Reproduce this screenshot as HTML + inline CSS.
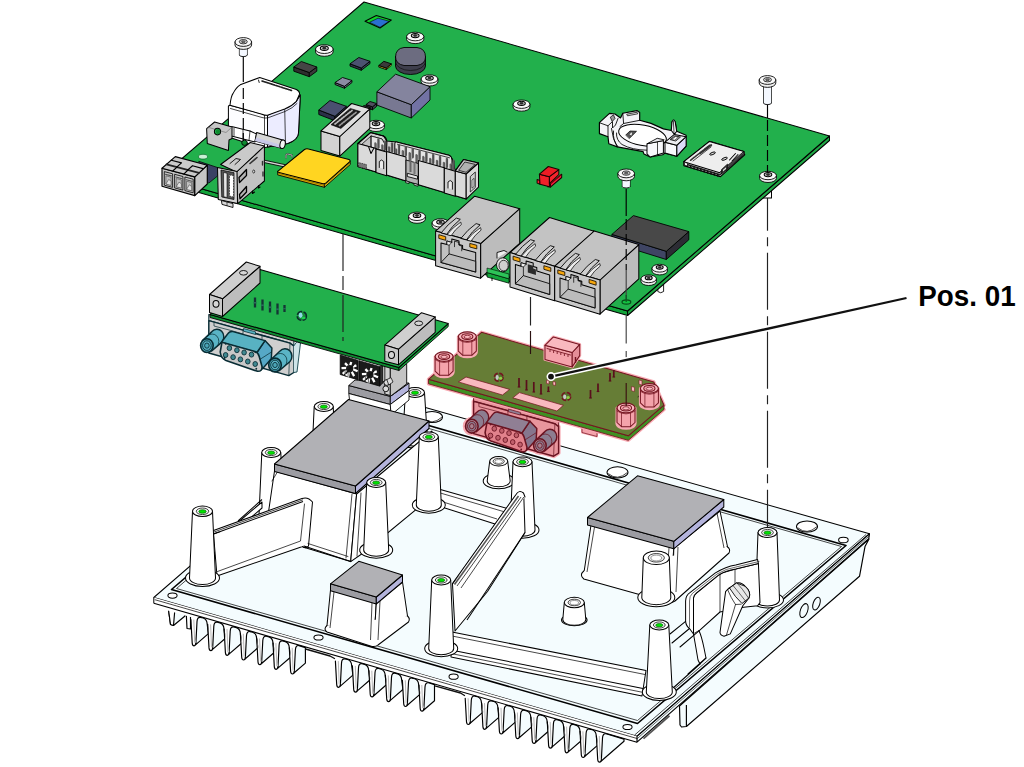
<!DOCTYPE html>
<html><head><meta charset="utf-8"><title>Pos. 01</title>
<style>
html,body{margin:0;padding:0;background:#fff;}
body{width:1024px;height:767px;overflow:hidden;}
svg{display:block;}
text{font-family:"Liberation Sans",sans-serif;}
</style></head><body>
<svg width="1024" height="767" viewBox="0 0 1024 767">
<rect width="1024" height="767" fill="#fff"/>
<polygon points="679.5,706.0 680.0,725.0 681.5,727.0 686.4,726.5 859.5,576.3 865.0,546.6 869.0,539.0" fill="#f4fcfe" stroke="#000" stroke-width="1.16" stroke-linejoin="round" />
<line x1="686.4" y1="726.5" x2="686.4" y2="705.0" stroke="#000" stroke-width="1.16" />
<line x1="643.5" y1="738.6" x2="669.5" y2="715.8" stroke="#555" stroke-width="1.80" />
<polygon points="168.0,606.0 170.5,624.5 173.5,625.5 185.0,616.0 185.0,606.0" fill="#f4fcfe" stroke="#000" stroke-width="1.16" stroke-linejoin="round" />
<polygon points="168.0,606.0 170.5,624.5 173.5,625.5 175.0,608.0" fill="#fff" stroke="#000" stroke-width="1.16" stroke-linejoin="round" />
<polygon points="186.0,608.0 187.0,628.5 190.5,629.0 190.5,608.0" fill="#fff" stroke="#000" stroke-width="1.16" stroke-linejoin="round" />
<polygon points="153.8,597.5 637.0,736.3 869.5,533.8 385.8,396.2" fill="#f4fcfe" stroke="#000" stroke-width="1.01" stroke-linejoin="round" />
<polygon points="153.8,597.5 153.8,606.5 637.0,745.3 637.0,736.3" fill="#fff" stroke="none" stroke-width="1.16" stroke-linejoin="round" />
<line x1="153.8" y1="597.5" x2="153.8" y2="603.3" stroke="#000" stroke-width="1.01" />
<path d="M195.8,644.6 L208.4,633.6 L207.2,624.2 Q206.9,619.2 203.2,618.0 L200.5,617.4 Q197.3,616.8 197.0,621.6 Z" fill="#f4fcfe" stroke="#000" stroke-width="1.16" stroke-linejoin="round" stroke-linecap="round" />
<path d="M190.9,619.6 L192.2,643.1 Q192.5,645.8 194.1,645.8 Q195.7,645.8 195.8,643.1" fill="#fff" stroke="#000" stroke-width="1.16" stroke-linejoin="round" stroke-linecap="round" />
<line x1="193.8" y1="619.6" x2="194.7" y2="642.6" stroke="#999" stroke-width="0.72" />
<path d="M212.6,649.4 L225.2,638.5 L224.0,629.1 Q223.7,624.1 220.0,622.9 L217.3,622.2 Q214.1,621.6 213.8,626.4 Z" fill="#f4fcfe" stroke="#000" stroke-width="1.16" stroke-linejoin="round" stroke-linecap="round" />
<path d="M207.7,624.4 L209.0,647.9 Q209.3,650.6 210.9,650.6 Q212.5,650.6 212.6,647.9" fill="#fff" stroke="#000" stroke-width="1.16" stroke-linejoin="round" stroke-linecap="round" />
<line x1="210.6" y1="624.4" x2="211.5" y2="647.4" stroke="#999" stroke-width="0.72" />
<path d="M229.0,654.1 L241.6,643.2 L240.4,633.8 Q240.1,628.8 236.4,627.6 L233.7,626.9 Q230.5,626.3 230.2,631.1 Z" fill="#f4fcfe" stroke="#000" stroke-width="1.16" stroke-linejoin="round" stroke-linecap="round" />
<path d="M224.1,629.1 L225.4,652.6 Q225.7,655.3 227.3,655.3 Q228.9,655.3 229.0,652.6" fill="#fff" stroke="#000" stroke-width="1.16" stroke-linejoin="round" stroke-linecap="round" />
<line x1="227.0" y1="629.1" x2="227.9" y2="652.1" stroke="#999" stroke-width="0.72" />
<path d="M245.3,658.8 L257.9,647.8 L256.7,638.5 Q256.4,633.5 252.7,632.3 L250.0,631.6 Q246.8,631.0 246.5,635.8 Z" fill="#f4fcfe" stroke="#000" stroke-width="1.16" stroke-linejoin="round" stroke-linecap="round" />
<path d="M240.4,633.8 L241.7,657.3 Q242.0,660.0 243.6,660.0 Q245.2,660.0 245.3,657.3" fill="#fff" stroke="#000" stroke-width="1.16" stroke-linejoin="round" stroke-linecap="round" />
<line x1="243.3" y1="633.8" x2="244.2" y2="656.8" stroke="#999" stroke-width="0.72" />
<path d="M261.6,663.5 L274.2,652.5 L273.0,643.1 Q272.7,638.1 269.0,636.9 L266.3,636.3 Q263.1,635.7 262.8,640.5 Z" fill="#f4fcfe" stroke="#000" stroke-width="1.16" stroke-linejoin="round" stroke-linecap="round" />
<path d="M256.7,638.5 L258.0,662.0 Q258.3,664.7 259.9,664.7 Q261.5,664.7 261.6,662.0" fill="#fff" stroke="#000" stroke-width="1.16" stroke-linejoin="round" stroke-linecap="round" />
<line x1="259.6" y1="638.5" x2="260.5" y2="661.5" stroke="#999" stroke-width="0.72" />
<path d="M277.9,668.1 L290.5,657.2 L289.3,647.8 Q289.0,642.8 285.3,641.6 L282.6,640.9 Q279.4,640.3 279.1,645.1 Z" fill="#f4fcfe" stroke="#000" stroke-width="1.16" stroke-linejoin="round" stroke-linecap="round" />
<path d="M273.0,643.1 L274.3,666.6 Q274.6,669.3 276.2,669.3 Q277.8,669.3 277.9,666.6" fill="#fff" stroke="#000" stroke-width="1.16" stroke-linejoin="round" stroke-linecap="round" />
<line x1="275.9" y1="643.1" x2="276.8" y2="666.1" stroke="#999" stroke-width="0.72" />
<path d="M294.2,672.8 L305.4,663.1 L305.4,647.6 L298.9,645.6 Q295.7,645.0 295.4,649.8 Z" fill="#f4fcfe" stroke="#000" stroke-width="1.16" stroke-linejoin="round" stroke-linecap="round" />
<path d="M289.3,647.8 L290.6,671.3 Q290.9,674.0 292.5,674.0 Q294.1,674.0 294.2,671.3" fill="#fff" stroke="#000" stroke-width="1.16" stroke-linejoin="round" stroke-linecap="round" />
<line x1="292.2" y1="647.8" x2="293.1" y2="670.8" stroke="#999" stroke-width="0.72" />
<path d="M340.3,686.1 L352.9,675.1 L351.7,665.7 Q351.4,660.7 347.7,659.5 L345.0,658.9 Q341.8,658.3 341.5,663.1 Z" fill="#f4fcfe" stroke="#000" stroke-width="1.16" stroke-linejoin="round" stroke-linecap="round" />
<path d="M335.4,661.1 L336.7,684.6 Q337.0,687.3 338.6,687.3 Q340.2,687.3 340.3,684.6" fill="#fff" stroke="#000" stroke-width="1.16" stroke-linejoin="round" stroke-linecap="round" />
<line x1="338.3" y1="661.1" x2="339.2" y2="684.1" stroke="#999" stroke-width="0.72" />
<path d="M357.3,690.9 L369.9,680.0 L368.7,670.6 Q368.4,665.6 364.7,664.4 L362.0,663.7 Q358.8,663.1 358.5,667.9 Z" fill="#f4fcfe" stroke="#000" stroke-width="1.16" stroke-linejoin="round" stroke-linecap="round" />
<path d="M352.4,665.9 L353.7,689.4 Q354.0,692.1 355.6,692.1 Q357.2,692.1 357.3,689.4" fill="#fff" stroke="#000" stroke-width="1.16" stroke-linejoin="round" stroke-linecap="round" />
<line x1="355.3" y1="665.9" x2="356.2" y2="688.9" stroke="#999" stroke-width="0.72" />
<path d="M373.8,695.7 L386.4,684.8 L385.2,675.4 Q384.9,670.4 381.2,669.2 L378.5,668.5 Q375.3,667.9 375.0,672.7 Z" fill="#f4fcfe" stroke="#000" stroke-width="1.16" stroke-linejoin="round" stroke-linecap="round" />
<path d="M368.9,670.7 L370.2,694.2 Q370.5,696.9 372.1,696.9 Q373.7,696.9 373.8,694.2" fill="#fff" stroke="#000" stroke-width="1.16" stroke-linejoin="round" stroke-linecap="round" />
<line x1="371.8" y1="670.7" x2="372.7" y2="693.7" stroke="#999" stroke-width="0.72" />
<path d="M390.3,700.4 L402.9,689.5 L401.7,680.1 Q401.4,675.1 397.7,673.9 L395.0,673.2 Q391.8,672.6 391.5,677.4 Z" fill="#f4fcfe" stroke="#000" stroke-width="1.16" stroke-linejoin="round" stroke-linecap="round" />
<path d="M385.4,675.4 L386.7,698.9 Q387.0,701.6 388.6,701.6 Q390.2,701.6 390.3,698.9" fill="#fff" stroke="#000" stroke-width="1.16" stroke-linejoin="round" stroke-linecap="round" />
<line x1="388.3" y1="675.4" x2="389.2" y2="698.4" stroke="#999" stroke-width="0.72" />
<path d="M407.3,705.3 L419.9,694.4 L418.7,685.0 Q418.4,680.0 414.7,678.8 L412.0,678.1 Q408.8,677.5 408.5,682.3 Z" fill="#f4fcfe" stroke="#000" stroke-width="1.16" stroke-linejoin="round" stroke-linecap="round" />
<path d="M402.4,680.3 L403.7,703.8 Q404.0,706.5 405.6,706.5 Q407.2,706.5 407.3,703.8" fill="#fff" stroke="#000" stroke-width="1.16" stroke-linejoin="round" stroke-linecap="round" />
<line x1="405.3" y1="680.3" x2="406.2" y2="703.3" stroke="#999" stroke-width="0.72" />
<path d="M423.8,710.0 L434.5,700.8 L434.5,684.6 L428.5,682.8 Q425.3,682.2 425.0,687.0 Z" fill="#f4fcfe" stroke="#000" stroke-width="1.16" stroke-linejoin="round" stroke-linecap="round" />
<path d="M418.9,685.0 L420.2,708.5 Q420.5,711.2 422.1,711.2 Q423.7,711.2 423.8,708.5" fill="#fff" stroke="#000" stroke-width="1.16" stroke-linejoin="round" stroke-linecap="round" />
<line x1="421.8" y1="685.0" x2="422.7" y2="708.0" stroke="#999" stroke-width="0.72" />
<path d="M470.1,723.3 L482.7,712.4 L481.5,703.0 Q481.2,698.0 477.5,696.8 L474.8,696.1 Q471.6,695.5 471.3,700.3 Z" fill="#f4fcfe" stroke="#000" stroke-width="1.16" stroke-linejoin="round" stroke-linecap="round" />
<path d="M465.2,698.3 L466.5,721.8 Q466.8,724.5 468.4,724.5 Q470.0,724.5 470.1,721.8" fill="#fff" stroke="#000" stroke-width="1.16" stroke-linejoin="round" stroke-linecap="round" />
<line x1="468.1" y1="698.3" x2="469.0" y2="721.3" stroke="#999" stroke-width="0.72" />
<path d="M486.5,728.1 L499.1,717.1 L497.9,707.7 Q497.6,702.7 493.9,701.5 L491.2,700.9 Q488.0,700.3 487.7,705.1 Z" fill="#f4fcfe" stroke="#000" stroke-width="1.16" stroke-linejoin="round" stroke-linecap="round" />
<path d="M481.6,703.1 L482.9,726.6 Q483.2,729.3 484.8,729.3 Q486.4,729.3 486.5,726.6" fill="#fff" stroke="#000" stroke-width="1.16" stroke-linejoin="round" stroke-linecap="round" />
<line x1="484.5" y1="703.1" x2="485.4" y2="726.1" stroke="#999" stroke-width="0.72" />
<path d="M503.0,732.8 L515.6,721.9 L514.4,712.5 Q514.1,707.5 510.4,706.3 L507.7,705.6 Q504.5,705.0 504.2,709.8 Z" fill="#f4fcfe" stroke="#000" stroke-width="1.16" stroke-linejoin="round" stroke-linecap="round" />
<path d="M498.1,707.8 L499.4,731.3 Q499.7,734.0 501.3,734.0 Q502.9,734.0 503.0,731.3" fill="#fff" stroke="#000" stroke-width="1.16" stroke-linejoin="round" stroke-linecap="round" />
<line x1="501.0" y1="707.8" x2="501.9" y2="730.8" stroke="#999" stroke-width="0.72" />
<path d="M519.4,737.5 L532.0,726.6 L530.8,717.2 Q530.5,712.2 526.8,711.0 L524.1,710.3 Q520.9,709.7 520.6,714.5 Z" fill="#f4fcfe" stroke="#000" stroke-width="1.16" stroke-linejoin="round" stroke-linecap="round" />
<path d="M514.5,712.5 L515.8,736.0 Q516.1,738.7 517.7,738.7 Q519.3,738.7 519.4,736.0" fill="#fff" stroke="#000" stroke-width="1.16" stroke-linejoin="round" stroke-linecap="round" />
<line x1="517.4" y1="712.5" x2="518.3" y2="735.5" stroke="#999" stroke-width="0.72" />
<path d="M535.8,742.2 L548.4,731.3 L547.2,721.9 Q546.9,716.9 543.2,715.7 L540.5,715.0 Q537.3,714.4 537.0,719.2 Z" fill="#f4fcfe" stroke="#000" stroke-width="1.16" stroke-linejoin="round" stroke-linecap="round" />
<path d="M530.9,717.2 L532.2,740.7 Q532.5,743.4 534.1,743.4 Q535.7,743.4 535.8,740.7" fill="#fff" stroke="#000" stroke-width="1.16" stroke-linejoin="round" stroke-linecap="round" />
<line x1="533.8" y1="717.2" x2="534.7" y2="740.2" stroke="#999" stroke-width="0.72" />
<path d="M552.2,746.9 L564.8,736.0 L563.6,726.6 Q563.3,721.6 559.6,720.4 L556.9,719.7 Q553.7,719.1 553.4,723.9 Z" fill="#f4fcfe" stroke="#000" stroke-width="1.16" stroke-linejoin="round" stroke-linecap="round" />
<path d="M547.3,721.9 L548.6,745.4 Q548.9,748.1 550.5,748.1 Q552.1,748.1 552.2,745.4" fill="#fff" stroke="#000" stroke-width="1.16" stroke-linejoin="round" stroke-linecap="round" />
<line x1="550.2" y1="721.9" x2="551.1" y2="744.9" stroke="#999" stroke-width="0.72" />
<path d="M568.6,751.6 L581.2,740.7 L580.0,731.3 Q579.7,726.3 576.0,725.1 L573.3,724.4 Q570.1,723.8 569.8,728.6 Z" fill="#f4fcfe" stroke="#000" stroke-width="1.16" stroke-linejoin="round" stroke-linecap="round" />
<path d="M563.7,726.6 L565.0,750.1 Q565.3,752.8 566.9,752.8 Q568.5,752.8 568.6,750.1" fill="#fff" stroke="#000" stroke-width="1.16" stroke-linejoin="round" stroke-linecap="round" />
<line x1="566.6" y1="726.6" x2="567.5" y2="749.6" stroke="#999" stroke-width="0.72" />
<path d="M584.9,756.3 L597.5,745.4 L596.3,736.0 Q596.0,731.0 592.3,729.8 L589.6,729.1 Q586.4,728.5 586.1,733.3 Z" fill="#f4fcfe" stroke="#000" stroke-width="1.16" stroke-linejoin="round" stroke-linecap="round" />
<path d="M580.0,731.3 L581.3,754.8 Q581.6,757.5 583.2,757.5 Q584.8,757.5 584.9,754.8" fill="#fff" stroke="#000" stroke-width="1.16" stroke-linejoin="round" stroke-linecap="round" />
<line x1="582.9" y1="731.3" x2="583.8" y2="754.3" stroke="#999" stroke-width="0.72" />
<path d="M601.3,761.0 L624.0,741.3 L624.0,739.1 L606.0,733.8 Q602.8,733.2 602.5,738.0 Z" fill="#f4fcfe" stroke="#000" stroke-width="1.16" stroke-linejoin="round" stroke-linecap="round" />
<path d="M596.4,736.0 L597.7,759.5 Q598.0,762.2 599.6,762.2 Q601.2,762.2 601.3,759.5" fill="#fff" stroke="#000" stroke-width="1.16" stroke-linejoin="round" stroke-linecap="round" />
<line x1="599.3" y1="736.0" x2="600.2" y2="759.0" stroke="#999" stroke-width="0.72" />
<polyline points="305.5,649.0 330.0,656.0 334.5,658.5" fill="none" stroke="#111" stroke-width="1.40" stroke-linejoin="round" stroke-linecap="round" />
<polyline points="434.8,685.8 460.5,693.0 464.5,695.5" fill="none" stroke="#111" stroke-width="1.40" stroke-linejoin="round" stroke-linecap="round" />
<polygon points="637.0,736.3 637.0,742.1 868.7,538.8 869.5,533.8" fill="#f4fcfe" stroke="#000" stroke-width="1.16" stroke-linejoin="round" />
<line x1="154.8" y1="599.7" x2="637.0" y2="738.5" stroke="#000" stroke-width="0.72" />
<line x1="153.8" y1="603.3" x2="637.0" y2="742.3" stroke="#000" stroke-width="1.16" />
<line x1="634.5" y1="735.1" x2="866.0" y2="534.5" stroke="#000" stroke-width="0.72" />
<line x1="637.0" y1="738.8" x2="869.2" y2="536.0" stroke="#000" stroke-width="0.58" />
<polygon points="171.5,589.5 637.5,723.5 846.0,545.5 380.0,411.5" fill="#f4fcfe" stroke="#000" stroke-width="1.59" stroke-linejoin="round" />
<polygon points="176.5,588.5 637.5,720.5 841.5,546.5 380.0,414.5" fill="#f4fcfe" stroke="#000" stroke-width="0.72" stroke-linejoin="round" />
<ellipse cx="172.5" cy="595.6" rx="4.6" ry="2.6" fill="#fff" stroke="#000" stroke-width="1.01" />
<ellipse cx="318.5" cy="637.5" rx="4.6" ry="2.6" fill="#fff" stroke="#000" stroke-width="1.01" />
<ellipse cx="453.6" cy="676.7" rx="4.6" ry="2.6" fill="#fff" stroke="#000" stroke-width="1.01" />
<ellipse cx="627.5" cy="727.0" rx="4.6" ry="2.6" fill="#fff" stroke="#000" stroke-width="1.01" />
<ellipse cx="843.4" cy="540.0" rx="4.8" ry="2.8" fill="#fff" stroke="#000" stroke-width="1.01" />
<ellipse cx="432.0" cy="417.0" rx="10.5" ry="5.6" fill="#fff" stroke="#000" stroke-width="1.01" />
<path d="M423.0,418.5 Q432.0,426.0 441.5,417.5" fill="none" stroke="#000" stroke-width="0.72" stroke-linejoin="round" stroke-linecap="round" />
<ellipse cx="617.5" cy="472.3" rx="10.5" ry="5.6" fill="#fff" stroke="#000" stroke-width="1.01" />
<path d="M608.5,473.8 Q617.5,481.3 627.0,472.8" fill="none" stroke="#000" stroke-width="0.72" stroke-linejoin="round" stroke-linecap="round" />
<ellipse cx="807.0" cy="526.5" rx="10.5" ry="5.6" fill="#fff" stroke="#000" stroke-width="1.01" />
<path d="M798.0,528.0 Q807.0,535.5 816.5,527.0" fill="none" stroke="#000" stroke-width="0.72" stroke-linejoin="round" stroke-linecap="round" />
<ellipse cx="804.0" cy="610.6" rx="3.6" ry="7.3" fill="none" stroke="#000" stroke-width="1.01" transform="rotate(20 804 610.6)"/>
<ellipse cx="816.5" cy="603.6" rx="3.3" ry="6.6" fill="none" stroke="#000" stroke-width="1.01" transform="rotate(20 816.5 603.6)"/>
<ellipse cx="323.8" cy="470.0" rx="16.5" ry="8.2" fill="#ffffff" stroke="#000" stroke-width="1.01" />
<path d="M314.2,406.5 L311.2,470.0 A12.5,6.2 0 0 0 336.2,470.0 L333.2,406.5 Z" fill="#ffffff" stroke="#000" stroke-width="1.01" stroke-linejoin="round" stroke-linecap="round" />
<ellipse cx="323.8" cy="406.5" rx="9.5" ry="4.9" fill="#ffffff" stroke="#000" stroke-width="1.01" />
<ellipse cx="323.8" cy="406.5" rx="5.9" ry="3.1" fill="#f0f0f0" stroke="#000" stroke-width="0.72" />
<ellipse cx="323.8" cy="406.7" rx="3.5" ry="1.7" fill="#00e400" stroke="#0a6a0a" stroke-width="0.72" />
<ellipse cx="415.0" cy="440.0" rx="16.5" ry="8.2" fill="#ffffff" stroke="#000" stroke-width="1.01" />
<path d="M405.5,392.5 L402.5,440.0 A12.5,6.2 0 0 0 427.5,440.0 L424.5,392.5 Z" fill="#ffffff" stroke="#000" stroke-width="1.01" stroke-linejoin="round" stroke-linecap="round" />
<ellipse cx="415.0" cy="392.5" rx="9.5" ry="4.9" fill="#ffffff" stroke="#000" stroke-width="1.01" />
<ellipse cx="415.0" cy="392.5" rx="5.9" ry="3.1" fill="#f0f0f0" stroke="#000" stroke-width="0.72" />
<ellipse cx="415.0" cy="392.7" rx="3.5" ry="1.7" fill="#00e400" stroke="#0a6a0a" stroke-width="0.72" />
<ellipse cx="271.2" cy="520.0" rx="16.5" ry="8.2" fill="#ffffff" stroke="#000" stroke-width="1.01" />
<path d="M261.8,452.5 L258.8,520.0 A12.5,6.2 0 0 0 283.8,520.0 L280.8,452.5 Z" fill="#ffffff" stroke="#000" stroke-width="1.01" stroke-linejoin="round" stroke-linecap="round" />
<ellipse cx="271.2" cy="452.5" rx="9.5" ry="4.9" fill="#ffffff" stroke="#000" stroke-width="1.01" />
<ellipse cx="271.2" cy="452.5" rx="5.9" ry="3.1" fill="#f0f0f0" stroke="#000" stroke-width="0.72" />
<ellipse cx="271.2" cy="452.7" rx="3.5" ry="1.7" fill="#00e400" stroke="#0a6a0a" stroke-width="0.72" />
<polygon points="236.0,524.0 262.0,502.0 262.0,508.0 240.0,527.0" fill="#ffffff" stroke="#000" stroke-width="1.01" stroke-linejoin="round" />
<line x1="238.0" y1="521.0" x2="262.0" y2="499.5" stroke="#000" stroke-width="1.01" />
<polygon points="348.8,385.5 390.3,396.4 390.3,404.5 348.8,393.5" fill="#9c9ca2" stroke="#000" stroke-width="0.87" stroke-linejoin="round" />
<polygon points="390.3,396.4 409.0,383.1 409.0,390.5 390.3,404.5" fill="#b4b4dc" stroke="#000" stroke-width="0.87" stroke-linejoin="round" />
<polygon points="348.8,385.5 355.0,380.0 409.0,383.1 390.3,396.4" fill="#b1b1b5" stroke="#000" stroke-width="0.87" stroke-linejoin="round" />
<polygon points="348.8,393.5 390.3,404.5 391.0,415.0 350.0,404.0" fill="#fff" stroke="#000" stroke-width="0.87" stroke-linejoin="round" />
<polygon points="390.3,404.5 409.0,390.5 409.0,400.0 391.0,415.0" fill="#fff" stroke="#000" stroke-width="0.87" stroke-linejoin="round" />
<polygon points="274.5,471.0 356.6,494.0 350.7,561.6 303.0,547.0 268.5,512.0" fill="#ffffff" stroke="#000" stroke-width="1.01" stroke-linejoin="round" />
<polygon points="356.6,494.0 432.0,431.0 424.0,503.0 364.5,552.0 350.7,561.6" fill="#ffffff" stroke="#000" stroke-width="1.01" stroke-linejoin="round" />
<polyline points="352.0,494.0 346.0,558.0" fill="none" stroke="#000" stroke-width="0.72" stroke-linejoin="round" stroke-linecap="round" />
<polyline points="361.0,493.0 357.0,556.0" fill="none" stroke="#000" stroke-width="0.72" stroke-linejoin="round" stroke-linecap="round" />
<polyline points="364.5,552.0 360.0,551.5" fill="none" stroke="#000" stroke-width="0.72" stroke-linejoin="round" stroke-linecap="round" />
<polyline points="272.0,481.0 278.0,471.0" fill="none" stroke="#000" stroke-width="0.72" stroke-linejoin="round" stroke-linecap="round" />
<polygon points="274.5,464.0 355.5,486.0 355.5,493.5 274.5,471.5" fill="#9c9ca2" stroke="#000" stroke-width="1.01" stroke-linejoin="round" />
<polygon points="355.5,486.0 429.0,421.0 429.0,428.5 355.5,493.5" fill="#b4b4dc" stroke="#000" stroke-width="1.01" stroke-linejoin="round" />
<polygon points="274.5,464.0 348.5,399.5 429.0,421.0 355.5,486.0" fill="#b1b1b5" stroke="#000" stroke-width="1.01" stroke-linejoin="round" />
<polygon points="213.5,534.0 303.0,501.5 308.0,502.5 304.0,546.0 217.0,576.0" fill="#ffffff" stroke="#000" stroke-width="1.01" stroke-linejoin="round" />
<path d="M213.5,530.5 L302,498.5 Q308,496.5 312.5,502 L308.5,546 Q306,549 302.5,546.5" fill="#ffffff" stroke="#000" stroke-width="1.01" stroke-linejoin="round" stroke-linecap="round" />
<line x1="213.5" y1="534.0" x2="303.0" y2="501.5" stroke="#000" stroke-width="1.01" />
<line x1="213.5" y1="532.2" x2="303.0" y2="499.8" stroke="#000" stroke-width="0.72" />
<polyline points="217.5,571.5 300.5,541.0 304.5,504.0" fill="none" stroke="#000" stroke-width="0.72" stroke-linejoin="round" stroke-linecap="round" />
<polyline points="304.0,546.0 350.7,561.6" fill="none" stroke="#000" stroke-width="1.01" stroke-linejoin="round" stroke-linecap="round" />
<polyline points="308.0,543.5 348.0,556.5" fill="none" stroke="#000" stroke-width="0.72" stroke-linejoin="round" stroke-linecap="round" />
<ellipse cx="202.5" cy="578.0" rx="17.0" ry="8.5" fill="#ffffff" stroke="#000" stroke-width="1.01" />
<path d="M192.5,511.3 L189.5,578.0 A13.0,6.5 0 0 0 215.5,578.0 L212.5,511.3 Z" fill="#ffffff" stroke="#000" stroke-width="1.01" stroke-linejoin="round" stroke-linecap="round" />
<ellipse cx="202.5" cy="511.3" rx="10.0" ry="5.2" fill="#ffffff" stroke="#000" stroke-width="1.01" />
<ellipse cx="202.5" cy="511.3" rx="6.2" ry="3.3" fill="#f0f0f0" stroke="#000" stroke-width="0.72" />
<ellipse cx="202.5" cy="511.5" rx="3.7" ry="1.8" fill="#00e400" stroke="#0a6a0a" stroke-width="0.72" />
<ellipse cx="376.2" cy="550.0" rx="16.5" ry="8.2" fill="#ffffff" stroke="#000" stroke-width="1.01" />
<path d="M366.7,482.5 L363.7,550.0 A12.5,6.2 0 0 0 388.7,550.0 L385.7,482.5 Z" fill="#ffffff" stroke="#000" stroke-width="1.01" stroke-linejoin="round" stroke-linecap="round" />
<ellipse cx="376.2" cy="482.5" rx="9.5" ry="4.9" fill="#ffffff" stroke="#000" stroke-width="1.01" />
<ellipse cx="376.2" cy="482.5" rx="5.9" ry="3.1" fill="#f0f0f0" stroke="#000" stroke-width="0.72" />
<ellipse cx="376.2" cy="482.7" rx="3.5" ry="1.7" fill="#00e400" stroke="#0a6a0a" stroke-width="0.72" />
<polygon points="438.6,489.0 512.5,510.0 512.5,519.0 495.0,524.0 438.6,506.0" fill="#ffffff" stroke="#000" stroke-width="1.01" stroke-linejoin="round" />
<line x1="438.6" y1="492.5" x2="505.0" y2="512.0" stroke="#000" stroke-width="0.72" />
<line x1="440.0" y1="501.0" x2="497.0" y2="519.0" stroke="#000" stroke-width="0.72" />
<ellipse cx="428.8" cy="505.0" rx="16.5" ry="8.2" fill="#ffffff" stroke="#000" stroke-width="1.01" />
<path d="M419.3,436.8 L416.3,505.0 A12.5,6.2 0 0 0 441.3,505.0 L438.3,436.8 Z" fill="#ffffff" stroke="#000" stroke-width="1.01" stroke-linejoin="round" stroke-linecap="round" />
<ellipse cx="428.8" cy="436.8" rx="9.5" ry="4.9" fill="#ffffff" stroke="#000" stroke-width="1.01" />
<ellipse cx="428.8" cy="436.8" rx="5.9" ry="3.1" fill="#f0f0f0" stroke="#000" stroke-width="0.72" />
<ellipse cx="428.8" cy="437.0" rx="3.5" ry="1.7" fill="#00e400" stroke="#0a6a0a" stroke-width="0.72" />
<ellipse cx="498.7" cy="481.0" rx="15.5" ry="7.8" fill="#ffffff" stroke="#000" stroke-width="1.01" />
<path d="M489.7,461.3 L487.2,481.0 A11.5,5.8 0 0 0 510.2,481.0 L507.7,461.3 Z" fill="#ffffff" stroke="#000" stroke-width="1.01" stroke-linejoin="round" stroke-linecap="round" />
<ellipse cx="498.7" cy="461.3" rx="9.0" ry="4.7" fill="#ffffff" stroke="#000" stroke-width="1.01" />
<ellipse cx="498.7" cy="461.3" rx="5.6" ry="3.0" fill="#f0f0f0" stroke="#000" stroke-width="0.72" />
<ellipse cx="498.7" cy="461.5" rx="3.8" ry="2.0" fill="#fff" stroke="#555" stroke-width="0.58" />
<ellipse cx="522.5" cy="530.0" rx="16.5" ry="8.2" fill="#ffffff" stroke="#000" stroke-width="1.01" />
<path d="M513.0,461.8 L510.0,530.0 A12.5,6.2 0 0 0 535.0,530.0 L532.0,461.8 Z" fill="#ffffff" stroke="#000" stroke-width="1.01" stroke-linejoin="round" stroke-linecap="round" />
<ellipse cx="522.5" cy="461.8" rx="9.5" ry="4.9" fill="#ffffff" stroke="#000" stroke-width="1.01" />
<ellipse cx="522.5" cy="461.8" rx="5.9" ry="3.1" fill="#f0f0f0" stroke="#000" stroke-width="0.72" />
<ellipse cx="522.5" cy="462.0" rx="3.5" ry="1.7" fill="#00e400" stroke="#0a6a0a" stroke-width="0.72" />
<polygon points="517.5,493.5 523.8,496.0 525.0,532.5 487.5,591.5 455.0,631.0 452.5,584.0" fill="#ffffff" stroke="#000" stroke-width="1.01" stroke-linejoin="round" />
<path d="M452.5,583.5 L516,494.5 Q519,489.5 523.5,493 L525,497" fill="#ffffff" stroke="#000" stroke-width="1.01" stroke-linejoin="round" stroke-linecap="round" />
<line x1="454.5" y1="584.5" x2="518.5" y2="496.0" stroke="#555" stroke-width="1.60" />
<line x1="457.0" y1="586.0" x2="521.0" y2="497.0" stroke="#000" stroke-width="0.72" />
<line x1="523.8" y1="497.0" x2="461.0" y2="588.0" stroke="#000" stroke-width="0.72" />
<line x1="525.0" y1="532.5" x2="467.0" y2="620.0" stroke="#000" stroke-width="1.01" />
<polygon points="330.5,590.0 376.3,603.0 374.0,640.0 327.0,625.5" fill="#ffffff" stroke="#000" stroke-width="1.01" stroke-linejoin="round" />
<polygon points="376.3,603.0 402.5,582.0 407.5,616.0 374.0,640.0" fill="#ffffff" stroke="#000" stroke-width="1.01" stroke-linejoin="round" />
<path d="M327,625.5 Q323,629 327,632 L372,646.5 Q376,647 378,645 L408.5,622 Q410.5,618.5 407.5,616" fill="#ffffff" stroke="#000" stroke-width="1.01" stroke-linejoin="round" stroke-linecap="round" />
<line x1="334.0" y1="592.0" x2="330.0" y2="628.0" stroke="#000" stroke-width="0.72" />
<line x1="372.0" y1="603.0" x2="370.5" y2="640.0" stroke="#000" stroke-width="0.72" />
<line x1="380.0" y1="601.0" x2="378.0" y2="640.0" stroke="#000" stroke-width="0.72" />
<polygon points="330.5,583.8 376.3,597.0 376.3,604.0 330.5,590.8" fill="#9c9ca2" stroke="#000" stroke-width="1.01" stroke-linejoin="round" />
<polygon points="376.3,597.0 402.5,575.0 402.5,582.0 376.3,604.0" fill="#b4b4dc" stroke="#000" stroke-width="1.01" stroke-linejoin="round" />
<polygon points="330.5,583.8 358.8,561.3 402.5,575.0 376.3,597.0" fill="#b1b1b5" stroke="#000" stroke-width="1.01" stroke-linejoin="round" />
<polygon points="452.0,632.0 646.0,670.5 642.0,696.0 451.0,657.0" fill="#ffffff" stroke="#000" stroke-width="1.01" stroke-linejoin="round" />
<line x1="452.0" y1="636.0" x2="645.0" y2="674.5" stroke="#000" stroke-width="0.72" />
<line x1="451.0" y1="650.0" x2="643.0" y2="688.5" stroke="#000" stroke-width="1.01" />
<line x1="451.0" y1="653.5" x2="642.5" y2="692.3" stroke="#000" stroke-width="0.72" />
<ellipse cx="441.2" cy="648.5" rx="16.5" ry="8.2" fill="#ffffff" stroke="#000" stroke-width="1.01" />
<path d="M431.7,580.0 L428.7,648.5 A12.5,6.2 0 0 0 453.7,648.5 L450.7,580.0 Z" fill="#ffffff" stroke="#000" stroke-width="1.01" stroke-linejoin="round" stroke-linecap="round" />
<ellipse cx="441.2" cy="580.0" rx="9.5" ry="4.9" fill="#ffffff" stroke="#000" stroke-width="1.01" />
<ellipse cx="441.2" cy="580.0" rx="5.9" ry="3.1" fill="#f0f0f0" stroke="#000" stroke-width="0.72" />
<ellipse cx="441.2" cy="580.2" rx="3.5" ry="1.7" fill="#00e400" stroke="#0a6a0a" stroke-width="0.72" />
<polygon points="591.0,525.0 673.8,548.0 670.0,597.5 583.8,573.8" fill="#ffffff" stroke="#000" stroke-width="1.01" stroke-linejoin="round" />
<polygon points="673.8,548.0 720.0,511.0 728.0,549.0 672.5,596.5" fill="#ffffff" stroke="#000" stroke-width="1.01" stroke-linejoin="round" />
<path d="M583.8,571 Q579,575 583.8,579 L668,602.5 Q672,603 675,601 L729,553 Q731,549 727,546.5" fill="#ffffff" stroke="#000" stroke-width="1.01" stroke-linejoin="round" stroke-linecap="round" />
<line x1="594.5" y1="527.0" x2="587.0" y2="572.0" stroke="#000" stroke-width="0.72" />
<line x1="669.0" y1="548.0" x2="665.5" y2="594.0" stroke="#000" stroke-width="0.72" />
<line x1="678.0" y1="547.0" x2="676.0" y2="592.0" stroke="#000" stroke-width="0.72" />
<line x1="717.0" y1="513.0" x2="724.0" y2="548.0" stroke="#000" stroke-width="0.72" />
<polygon points="587.5,517.5 673.8,541.3 673.8,548.8 587.5,525.0" fill="#9c9ca2" stroke="#000" stroke-width="1.01" stroke-linejoin="round" />
<polygon points="673.8,541.3 723.8,499.5 723.8,507.0 673.8,548.8" fill="#b4b4dc" stroke="#000" stroke-width="1.01" stroke-linejoin="round" />
<polygon points="587.5,517.5 637.5,475.8 723.8,499.5 673.8,541.3" fill="#b1b1b5" stroke="#000" stroke-width="1.01" stroke-linejoin="round" />
<ellipse cx="767.5" cy="600.0" rx="16.0" ry="8.0" fill="#ffffff" stroke="#000" stroke-width="1.01" />
<path d="M758.0,532.5 L755.5,600.0 A12.0,6.0 0 0 0 779.5,600.0 L777.0,532.5 Z" fill="#ffffff" stroke="#000" stroke-width="1.01" stroke-linejoin="round" stroke-linecap="round" />
<ellipse cx="767.5" cy="532.5" rx="9.5" ry="4.9" fill="#ffffff" stroke="#000" stroke-width="1.01" />
<ellipse cx="767.5" cy="532.5" rx="5.9" ry="3.1" fill="#f0f0f0" stroke="#000" stroke-width="0.72" />
<ellipse cx="767.5" cy="532.7" rx="3.5" ry="1.7" fill="#00e400" stroke="#0a6a0a" stroke-width="0.72" />
<path d="M758.4,563.5 L735.7,569 L721.6,572.9 L718.5,575.2 L695,594 L693.5,597.9 L693.5,634 L699,630.8 L720,612 L743.6,607.3 L757.6,605.7 L760,602.6 Z" fill="#ffffff" stroke="#000" stroke-width="1.01" stroke-linejoin="round" stroke-linecap="round" />
<path d="M757.6,559.6 L735.7,565 Q726,566.5 715.4,572.9 L690.3,592.4 Q685.6,595.5 685.6,601 L685.6,621.4 Q686,626 689.5,628.5 L693.5,634 L693.5,597.9 Q694,595 696.5,593 L718.5,575.2 Q726,570.5 735.7,569 L758.4,563.5 Z" fill="#ffffff" stroke="#000" stroke-width="1.01" stroke-linejoin="round" stroke-linecap="round" />
<path d="M759,561.5 L736,567 Q726,568.5 717,574 L692.5,593.3 Q689.3,596 689.5,601 L689.5,627" fill="none" stroke="#000" stroke-width="0.58" stroke-linejoin="round" stroke-linecap="round" />
<line x1="720.0" y1="573.5" x2="720.0" y2="612.0" stroke="#000" stroke-width="0.72" />
<line x1="735.0" y1="569.0" x2="735.0" y2="584.0" stroke="#000" stroke-width="0.72" />
<path d="M693.5,634 Q696,648 698,660 L700,664 L706,658 L704,648 Q701.5,636 699,630.8" fill="#ffffff" stroke="#000" stroke-width="1.01" stroke-linejoin="round" stroke-linecap="round" />
<path d="M685.6,621.4 L670,634 M689.5,628.5 L672,643 M700,664 L672,689 M706,658 L688,674" fill="none" stroke="#000" stroke-width="1.01" stroke-linejoin="round" stroke-linecap="round" />
<path d="M699,630.8 L680,647" fill="none" stroke="#000" stroke-width="1.01" stroke-linejoin="round" stroke-linecap="round" />
<path d="M725.6,591.6 L720,632.5 Q720.3,635.5 724,636.2 L730.3,633.9 L742.8,605.7 L749,597.9 Q751.5,592 745,586.2 Q741,581.5 736.5,583 L727.5,589.5 Z" fill="#ffffff" stroke="#000" stroke-width="1.01" stroke-linejoin="round" stroke-linecap="round" />
<path d="M727.5,589.5 Q731,598 735.5,604.5 L741.2,604.2 M735.5,604.5 L726.5,635" fill="none" stroke="#000" stroke-width="0.72" stroke-linejoin="round" stroke-linecap="round" />
<path d="M729.5,588 L736.5,583 L745,586.2 Q751.5,592 749,597.9 L742,603.5 Q735,597 729.5,588 Z" fill="#e8e8e8" stroke="#000" stroke-width="0.87" stroke-linejoin="round" stroke-linecap="round" />
<path d="M733,585.5 Q738.5,592 745.5,601 M737,583 Q742,588 748.5,598" fill="none" stroke="#000" stroke-width="0.58" stroke-linejoin="round" stroke-linecap="round" />
<ellipse cx="656.3" cy="597.5" rx="18.5" ry="9.2" fill="#ffffff" stroke="#000" stroke-width="1.01" />
<path d="M643.3,557.8 L641.8,597.5 A14.5,7.2 0 0 0 670.8,597.5 L669.3,557.8 Z" fill="#ffffff" stroke="#000" stroke-width="1.01" stroke-linejoin="round" stroke-linecap="round" />
<ellipse cx="656.3" cy="557.8" rx="13.0" ry="6.8" fill="#ffffff" stroke="#000" stroke-width="1.01" />
<ellipse cx="656.3" cy="557.8" rx="8.1" ry="4.3" fill="#f0f0f0" stroke="#000" stroke-width="0.72" />
<ellipse cx="656.3" cy="558.0" rx="5.5" ry="2.9" fill="#fff" stroke="#555" stroke-width="0.58" />
<ellipse cx="574.3" cy="620.0" rx="12.8" ry="5.8" fill="#ffffff" stroke="#000" stroke-width="1.01" />
<path d="M564.3,602.5 L562.8,619.5 A11.5,5.8 0 0 0 585.8,619.5 L584.3,602.5 Z" fill="#ffffff" stroke="#000" stroke-width="1.01" stroke-linejoin="round" stroke-linecap="round" />
<ellipse cx="574.3" cy="602.5" rx="10.0" ry="5.2" fill="#ffffff" stroke="#000" stroke-width="1.01" />
<ellipse cx="574.3" cy="602.5" rx="6.2" ry="3.3" fill="#f0f0f0" stroke="#000" stroke-width="0.72" />
<ellipse cx="574.3" cy="602.7" rx="4.2" ry="2.2" fill="#fff" stroke="#555" stroke-width="0.58" />
<ellipse cx="659.3" cy="692.0" rx="17.0" ry="8.5" fill="#ffffff" stroke="#000" stroke-width="1.01" />
<path d="M649.8,625.0 L646.3,692.0 A13.0,6.5 0 0 0 672.3,692.0 L668.8,625.0 Z" fill="#ffffff" stroke="#000" stroke-width="1.01" stroke-linejoin="round" stroke-linecap="round" />
<ellipse cx="659.3" cy="625.0" rx="9.5" ry="4.9" fill="#ffffff" stroke="#000" stroke-width="1.01" />
<ellipse cx="659.3" cy="625.0" rx="5.9" ry="3.1" fill="#f0f0f0" stroke="#000" stroke-width="0.72" />
<ellipse cx="659.3" cy="625.2" rx="3.5" ry="1.7" fill="#00e400" stroke="#0a6a0a" stroke-width="0.72" />
<polygon points="384.8,361.0 390.3,362.5 390.3,395.5 384.8,394.0" fill="#d0d0d0" stroke="#000" stroke-width="0.87" stroke-linejoin="round" />
<polygon points="390.3,362.5 406.7,364.3 406.7,383.8 390.3,396.4" fill="#c4c4c4" stroke="#000" stroke-width="0.87" stroke-linejoin="round" />
<ellipse cx="386.8" cy="382.5" rx="2.9" ry="2.9" fill="#ddd" stroke="#000" stroke-width="0.87" />
<ellipse cx="385.8" cy="388.8" rx="2.9" ry="2.9" fill="#ddd" stroke="#000" stroke-width="0.87" />
<polygon points="386.8,379.6 391.0,377.6 393.0,382.0 388.8,385.0" fill="#ddd" stroke="#000" stroke-width="0.72" stroke-linejoin="round" />
<polygon points="340.2,355.0 358.2,360.4 358.2,379.9 340.2,374.5" fill="#1a1a1a" stroke="#000" stroke-width="0.72" stroke-linejoin="round" />
<line x1="349.6" y1="367.8" x2="357.6" y2="371.2" stroke="#fff" stroke-width="2.30" />
<line x1="349.6" y1="367.8" x2="354.1" y2="376.1" stroke="#fff" stroke-width="2.30" />
<line x1="349.6" y1="367.8" x2="347.9" y2="377.2" stroke="#fff" stroke-width="2.30" />
<line x1="349.6" y1="367.8" x2="342.7" y2="373.9" stroke="#fff" stroke-width="2.30" />
<line x1="349.6" y1="367.8" x2="341.5" y2="368.1" stroke="#fff" stroke-width="2.30" />
<line x1="349.6" y1="367.8" x2="345.0" y2="363.1" stroke="#fff" stroke-width="2.30" />
<line x1="349.6" y1="367.8" x2="351.2" y2="362.0" stroke="#fff" stroke-width="2.30" />
<line x1="349.6" y1="367.8" x2="356.4" y2="365.3" stroke="#fff" stroke-width="2.30" />
<ellipse cx="349.6" cy="368.8" rx="3.6" ry="3.8" fill="#1a1a1a" stroke="none" stroke-width="1.16" />
<polygon points="345.1,369.8 348.1,370.8 348.1,376.8 345.1,375.8" fill="#fff" stroke="#000" stroke-width="0.58" stroke-linejoin="round" />
<line x1="345.6" y1="373.8" x2="353.6" y2="364.8" stroke="#111" stroke-width="1.60" />
<polygon points="359.0,360.7 380.0,366.7 380.0,386.2 359.0,380.2" fill="#1a1a1a" stroke="#000" stroke-width="0.72" stroke-linejoin="round" />
<line x1="369.9" y1="373.8" x2="378.0" y2="377.2" stroke="#fff" stroke-width="2.30" />
<line x1="369.9" y1="373.8" x2="374.5" y2="382.1" stroke="#fff" stroke-width="2.30" />
<line x1="369.9" y1="373.8" x2="368.3" y2="383.3" stroke="#fff" stroke-width="2.30" />
<line x1="369.9" y1="373.8" x2="363.1" y2="379.9" stroke="#fff" stroke-width="2.30" />
<line x1="369.9" y1="373.8" x2="361.9" y2="374.1" stroke="#fff" stroke-width="2.30" />
<line x1="369.9" y1="373.8" x2="365.4" y2="369.1" stroke="#fff" stroke-width="2.30" />
<line x1="369.9" y1="373.8" x2="371.5" y2="368.0" stroke="#fff" stroke-width="2.30" />
<line x1="369.9" y1="373.8" x2="376.8" y2="371.3" stroke="#fff" stroke-width="2.30" />
<ellipse cx="369.9" cy="374.8" rx="3.6" ry="3.8" fill="#1a1a1a" stroke="none" stroke-width="1.16" />
<polygon points="365.4,375.8 368.4,376.8 368.4,382.8 365.4,381.8" fill="#fff" stroke="#000" stroke-width="0.58" stroke-linejoin="round" />
<line x1="365.9" y1="379.8" x2="373.9" y2="370.8" stroke="#111" stroke-width="1.60" />
<polygon points="380.0,366.7 383.0,364.5 383.0,383.0 380.0,385.5" fill="#333" stroke="#000" stroke-width="0.58" stroke-linejoin="round" />
<polygon points="208.8,314.5 294.0,338.5 293.8,346.0 290.0,343.1 208.8,320.6" fill="#cfcfcf" stroke="#082c34" stroke-width="1.01" stroke-linejoin="round" />
<polygon points="208.8,320.6 290.0,343.1 293.8,346.0 293.8,372.5 288.8,375.6 208.8,353.0" fill="#cfcfcf" stroke="#082c34" stroke-width="1.45" stroke-linejoin="round" />
<polyline points="290.0,343.1 288.8,375.6" fill="none" stroke="#082c34" stroke-width="0.72" stroke-linejoin="round" stroke-linecap="round" />
<polyline points="214.0,322.2 214.0,326.0 231.0,330.5 243.0,334.0 243.0,330.0" fill="none" stroke="#082c34" stroke-width="0.72" stroke-linejoin="round" stroke-linecap="round" />
<polyline points="262.0,339.0 262.0,335.5 275.0,339.0" fill="none" stroke="#082c34" stroke-width="0.72" stroke-linejoin="round" stroke-linecap="round" />
<polygon points="243.5,328.5 255.5,331.8 255.5,334.5 243.5,331.2" fill="#58b2c2" stroke="#082c34" stroke-width="0.72" stroke-linejoin="round" />
<path d="M202.4,340.6 L211.9,331.6 A6.2,6.8 0 0 1 221.9,342.1 L211.4,351.1 Z" fill="#5ab4c6" stroke="#082c34" stroke-width="1.45" stroke-linejoin="round" stroke-linecap="round" />
<path d="M207.4,336.1 A6.2,6.8 0 0 1 216.9,346.6" fill="none" stroke="#082c34" stroke-width="0.72" stroke-linejoin="round" stroke-linecap="round" />
<ellipse cx="206.9" cy="345.6" rx="6.3" ry="6.9" fill="#4aa4b6" stroke="#082c34" stroke-width="1.59" />
<ellipse cx="206.9" cy="345.6" rx="4.3" ry="4.8" fill="#5ab4c6" stroke="#082c34" stroke-width="0.87" />
<ellipse cx="206.9" cy="345.6" rx="2.3" ry="2.6" fill="#4aa4b6" stroke="#082c34" stroke-width="0.87" />
<polygon points="256.9,352.5 265.0,340.6 271.9,348.0 271.3,358.8 262.5,368.8 261.9,368.0" fill="#56a8c6" stroke="#082c34" stroke-width="1.45" stroke-linejoin="round" />
<polyline points="259.0,360.0 271.5,352.0" fill="none" stroke="#082c34" stroke-width="0.72" stroke-linejoin="round" stroke-linecap="round" />
<path d="M221.2,342.5 L228.0,333.5 Q229.5,331.2 233.0,331.6 L265.0,340.6 L256.9,352.5 Z" fill="#58b2c2" stroke="#082c34" stroke-width="1.45" stroke-linejoin="round" stroke-linecap="round" />
<path d="M222.0,342.2 L255.0,351.6 Q258.2,352.8 259.2,356.5 L262.0,366.5 Q262.5,371.5 257.5,371.3 L226.0,360.5 Q221.0,358.5 220.2,352.0 Z" fill="#c8c8c8" stroke="#082c34" stroke-width="1.59" stroke-linejoin="round" stroke-linecap="round" />
<ellipse cx="229.4" cy="348.1" rx="2.3" ry="2.5" fill="#3f8890" stroke="#082c34" stroke-width="0.87" />
<ellipse cx="236.9" cy="350.2" rx="2.3" ry="2.5" fill="#3f8890" stroke="#082c34" stroke-width="0.87" />
<ellipse cx="244.1" cy="352.5" rx="2.3" ry="2.5" fill="#3f8890" stroke="#082c34" stroke-width="0.87" />
<ellipse cx="251.5" cy="354.6" rx="2.3" ry="2.5" fill="#3f8890" stroke="#082c34" stroke-width="0.87" />
<ellipse cx="225.6" cy="355.0" rx="2.3" ry="2.5" fill="#3f8890" stroke="#082c34" stroke-width="0.87" />
<ellipse cx="233.1" cy="357.2" rx="2.3" ry="2.5" fill="#3f8890" stroke="#082c34" stroke-width="0.87" />
<ellipse cx="240.4" cy="359.4" rx="2.3" ry="2.5" fill="#3f8890" stroke="#082c34" stroke-width="0.87" />
<ellipse cx="247.8" cy="361.5" rx="2.3" ry="2.5" fill="#3f8890" stroke="#082c34" stroke-width="0.87" />
<ellipse cx="255.2" cy="364.0" rx="2.3" ry="2.5" fill="#3f8890" stroke="#082c34" stroke-width="0.87" />
<ellipse cx="225.7" cy="343.8" rx="0.9" ry="1.0" fill="#082c34" stroke="none" stroke-width="1.16" />
<ellipse cx="255.3" cy="352.3" rx="0.9" ry="1.0" fill="#082c34" stroke="none" stroke-width="1.16" />
<ellipse cx="224.6" cy="358.0" rx="0.9" ry="1.0" fill="#082c34" stroke="none" stroke-width="1.16" />
<ellipse cx="256.3" cy="368.8" rx="0.9" ry="1.0" fill="#082c34" stroke="none" stroke-width="1.16" />
<path d="M270.5,360.0 L280.0,351.0 A6.2,6.8 0 0 1 290.0,361.5 L279.5,370.5 Z" fill="#5ab4c6" stroke="#082c34" stroke-width="1.45" stroke-linejoin="round" stroke-linecap="round" />
<path d="M275.5,355.5 A6.2,6.8 0 0 1 285.0,366.0" fill="none" stroke="#082c34" stroke-width="0.72" stroke-linejoin="round" stroke-linecap="round" />
<ellipse cx="275.0" cy="365.0" rx="6.3" ry="6.9" fill="#4aa4b6" stroke="#082c34" stroke-width="1.59" />
<ellipse cx="275.0" cy="365.0" rx="4.3" ry="4.8" fill="#5ab4c6" stroke="#082c34" stroke-width="0.87" />
<ellipse cx="275.0" cy="365.0" rx="2.3" ry="2.6" fill="#4aa4b6" stroke="#082c34" stroke-width="0.87" />
<path d="M293.75,346 L297,341.5 L300.5,343 L297,372 L293.75,372.5" fill="#cfe4e8" stroke="#0c3c44" stroke-width="0.87" stroke-linejoin="round" stroke-linecap="round" />
<polygon points="210.0,314.5 398.9,367.5 398.9,370.5 210.0,317.5" fill="#0e8a30" stroke="#000" stroke-width="0.87" stroke-linejoin="round" />
<polygon points="398.9,367.5 448.2,323.6 448.2,326.6 398.9,370.5" fill="#16a03c" stroke="#000" stroke-width="0.87" stroke-linejoin="round" />
<polygon points="210.0,314.5 260.0,269.5 448.2,323.6 398.9,367.5" fill="#22b04c" stroke="#000" stroke-width="1.01" stroke-linejoin="round" />
<line x1="255.0" y1="297.5" x2="255.0" y2="307.5" stroke="#143434" stroke-width="2.30" />
<line x1="255.0" y1="302.0" x2="255.0" y2="303.5" stroke="#2a6a5a" stroke-width="2.90" />
<line x1="262.5" y1="299.5" x2="262.5" y2="310.5" stroke="#143434" stroke-width="2.30" />
<line x1="262.5" y1="304.4" x2="262.5" y2="306.1" stroke="#2a6a5a" stroke-width="2.90" />
<line x1="270.0" y1="301.5" x2="270.0" y2="312.5" stroke="#143434" stroke-width="2.30" />
<line x1="270.0" y1="306.4" x2="270.0" y2="308.1" stroke="#2a6a5a" stroke-width="2.90" />
<line x1="277.5" y1="303.5" x2="277.5" y2="314.5" stroke="#143434" stroke-width="2.30" />
<line x1="277.5" y1="308.4" x2="277.5" y2="310.1" stroke="#2a6a5a" stroke-width="2.90" />
<line x1="284.5" y1="305.0" x2="284.5" y2="312.0" stroke="#143434" stroke-width="2.30" />
<line x1="284.5" y1="308.1" x2="284.5" y2="309.2" stroke="#2a6a5a" stroke-width="2.90" />
<ellipse cx="301.8" cy="316.0" rx="4.6" ry="4.4" fill="#18903a" stroke="#0c2c2c" stroke-width="1.50" stroke-dasharray="6 1.5"/>
<ellipse cx="300.6" cy="315.3" rx="1.9" ry="2.7" fill="#8fd8e8" stroke="none" stroke-width="1.16" />
<ellipse cx="303.6" cy="318.0" rx="2.0" ry="1.3" fill="#20d050" stroke="none" stroke-width="1.16" />
<polygon points="222.5,298.8 260.0,266.3 260.0,283.0 222.5,316.5" fill="#bdbdbd" stroke="#000" stroke-width="1.01" stroke-linejoin="round" />
<polygon points="209.5,294.5 246.3,262.0 260.0,266.3 222.5,298.8" fill="#cfcfcf" stroke="#000" stroke-width="1.01" stroke-linejoin="round" />
<polygon points="209.5,294.5 222.5,298.8 222.5,316.5 209.5,312.5" fill="#c9c9c9" stroke="#000" stroke-width="1.01" stroke-linejoin="round" />
<ellipse cx="216.0" cy="303.8" rx="3.0" ry="3.4" fill="#d6d6d6" stroke="#000" stroke-width="1.01" />
<ellipse cx="243.5" cy="272.8" rx="4.0" ry="2.3" fill="#d6d6d6" stroke="#000" stroke-width="0.87" />
<polygon points="398.5,349.2 435.2,316.9 435.2,332.3 398.5,364.8" fill="#bdbdbd" stroke="#000" stroke-width="1.01" stroke-linejoin="round" />
<polygon points="384.8,345.1 421.5,312.7 435.2,316.9 398.5,349.2" fill="#cfcfcf" stroke="#000" stroke-width="1.01" stroke-linejoin="round" />
<polygon points="384.8,345.1 398.5,349.2 398.5,364.8 384.8,361.2" fill="#c9c9c9" stroke="#000" stroke-width="1.01" stroke-linejoin="round" />
<ellipse cx="391.5" cy="355.0" rx="3.0" ry="3.4" fill="#d6d6d6" stroke="#000" stroke-width="1.01" />
<ellipse cx="418.7" cy="323.3" rx="4.0" ry="2.3" fill="#d6d6d6" stroke="#000" stroke-width="0.87" />
<polygon points="473.6,401.2 554.9,423.7 558.6,426.6 558.6,453.1 553.6,456.2 473.6,433.6" fill="#f7aab2" stroke="#f7aab2" stroke-width="4.00" stroke-linejoin="round" />
<ellipse cx="471.8" cy="426.2" rx="7.5" ry="8.0" fill="#f7aab2" stroke="#f7aab2" stroke-width="3.00" />
<ellipse cx="539.9" cy="445.6" rx="7.5" ry="8.0" fill="#f7aab2" stroke="#f7aab2" stroke-width="3.00" />
<polygon points="473.6,395.1 558.9,419.1 558.6,426.6 554.9,423.7 473.6,401.2" fill="#e8959d" stroke="#6a1422" stroke-width="1.01" stroke-linejoin="round" />
<polygon points="473.6,401.2 554.9,423.7 558.6,426.6 558.6,453.1 553.6,456.2 473.6,433.6" fill="#e8959d" stroke="#6a1422" stroke-width="1.45" stroke-linejoin="round" />
<polyline points="554.9,423.7 553.6,456.2" fill="none" stroke="#6a1422" stroke-width="0.72" stroke-linejoin="round" stroke-linecap="round" />
<polyline points="478.9,402.8 478.9,406.6 495.9,411.1 507.9,414.6 507.9,410.6" fill="none" stroke="#6a1422" stroke-width="0.72" stroke-linejoin="round" stroke-linecap="round" />
<polyline points="526.9,419.6 526.9,416.1 539.9,419.6" fill="none" stroke="#6a1422" stroke-width="0.72" stroke-linejoin="round" stroke-linecap="round" />
<polygon points="508.4,409.1 520.4,412.4 520.4,415.1 508.4,411.8" fill="#907f94" stroke="#6a1422" stroke-width="0.72" stroke-linejoin="round" />
<path d="M467.3,421.2 L476.8,412.2 A6.2,6.8 0 0 1 486.8,422.7 L476.3,431.7 Z" fill="#8d7d90" stroke="#6a1422" stroke-width="1.45" stroke-linejoin="round" stroke-linecap="round" />
<path d="M472.3,416.7 A6.2,6.8 0 0 1 481.8,427.2" fill="none" stroke="#6a1422" stroke-width="0.72" stroke-linejoin="round" stroke-linecap="round" />
<ellipse cx="471.8" cy="426.2" rx="6.3" ry="6.9" fill="#a8808e" stroke="#6a1422" stroke-width="1.59" />
<ellipse cx="471.8" cy="426.2" rx="4.3" ry="4.8" fill="#8d7d90" stroke="#6a1422" stroke-width="0.87" />
<ellipse cx="471.8" cy="426.2" rx="2.3" ry="2.6" fill="#a8808e" stroke="#6a1422" stroke-width="0.87" />
<polygon points="521.8,433.1 529.9,421.2 536.8,428.6 536.2,439.4 527.4,449.4 526.8,448.6" fill="#86768e" stroke="#6a1422" stroke-width="1.45" stroke-linejoin="round" />
<polyline points="523.9,440.6 536.4,432.6" fill="none" stroke="#6a1422" stroke-width="0.72" stroke-linejoin="round" stroke-linecap="round" />
<path d="M486.1,423.1 L492.9,414.1 Q494.4,411.8 497.9,412.2 L529.9,421.2 L521.8,433.1 Z" fill="#907f94" stroke="#6a1422" stroke-width="1.45" stroke-linejoin="round" stroke-linecap="round" />
<path d="M486.9,422.8 L519.9,432.2 Q523.1,433.4 524.1,437.1 L526.9,447.1 Q527.4,452.1 522.4,451.9 L490.9,441.1 Q485.9,439.1 485.1,432.6 Z" fill="#e2828c" stroke="#6a1422" stroke-width="1.59" stroke-linejoin="round" stroke-linecap="round" />
<ellipse cx="494.3" cy="428.7" rx="2.3" ry="2.5" fill="#c0606c" stroke="#6a1422" stroke-width="0.87" />
<ellipse cx="501.8" cy="430.8" rx="2.3" ry="2.5" fill="#c0606c" stroke="#6a1422" stroke-width="0.87" />
<ellipse cx="509.0" cy="433.1" rx="2.3" ry="2.5" fill="#c0606c" stroke="#6a1422" stroke-width="0.87" />
<ellipse cx="516.4" cy="435.2" rx="2.3" ry="2.5" fill="#c0606c" stroke="#6a1422" stroke-width="0.87" />
<ellipse cx="490.5" cy="435.6" rx="2.3" ry="2.5" fill="#c0606c" stroke="#6a1422" stroke-width="0.87" />
<ellipse cx="498.0" cy="437.8" rx="2.3" ry="2.5" fill="#c0606c" stroke="#6a1422" stroke-width="0.87" />
<ellipse cx="505.3" cy="440.0" rx="2.3" ry="2.5" fill="#c0606c" stroke="#6a1422" stroke-width="0.87" />
<ellipse cx="512.7" cy="442.1" rx="2.3" ry="2.5" fill="#c0606c" stroke="#6a1422" stroke-width="0.87" />
<ellipse cx="520.1" cy="444.6" rx="2.3" ry="2.5" fill="#c0606c" stroke="#6a1422" stroke-width="0.87" />
<ellipse cx="490.6" cy="424.4" rx="0.9" ry="1.0" fill="#6a1422" stroke="none" stroke-width="1.16" />
<ellipse cx="520.2" cy="432.9" rx="0.9" ry="1.0" fill="#6a1422" stroke="none" stroke-width="1.16" />
<ellipse cx="489.5" cy="438.6" rx="0.9" ry="1.0" fill="#6a1422" stroke="none" stroke-width="1.16" />
<ellipse cx="521.2" cy="449.4" rx="0.9" ry="1.0" fill="#6a1422" stroke="none" stroke-width="1.16" />
<path d="M535.4,440.6 L544.9,431.6 A6.2,6.8 0 0 1 554.9,442.1 L544.4,451.1 Z" fill="#8d7d90" stroke="#6a1422" stroke-width="1.45" stroke-linejoin="round" stroke-linecap="round" />
<path d="M540.4,436.1 A6.2,6.8 0 0 1 549.9,446.6" fill="none" stroke="#6a1422" stroke-width="0.72" stroke-linejoin="round" stroke-linecap="round" />
<ellipse cx="539.9" cy="445.6" rx="6.3" ry="6.9" fill="#a8808e" stroke="#6a1422" stroke-width="1.59" />
<ellipse cx="539.9" cy="445.6" rx="4.3" ry="4.8" fill="#8d7d90" stroke="#6a1422" stroke-width="0.87" />
<ellipse cx="539.9" cy="445.6" rx="2.3" ry="2.6" fill="#a8808e" stroke="#6a1422" stroke-width="0.87" />
<polygon points="582.0,428.0 597.0,432.0 597.0,436.5 582.0,432.5" fill="#f4a3ab" stroke="#f7aab2" stroke-width="2.00" stroke-linejoin="round" />
<polygon points="582.0,428.0 597.0,432.0 597.0,436.5 582.0,432.5" fill="#f4a3ab" stroke="#741420" stroke-width="0.72" stroke-linejoin="round" />
<polygon points="428.5,379.3 481.5,332.3 653.8,382.0 664.0,405.2 628.3,435.8 664.0,409.5 628.3,440.3 428.5,383.8" fill="#f7aab2" stroke="#f7aab2" stroke-width="3.40" stroke-linejoin="round" />
<polygon points="428.5,379.3 628.3,435.8 664.0,405.2 664.0,409.5 628.3,440.3 428.5,383.8" fill="#3f8f22" stroke="#741420" stroke-width="0.87" stroke-linejoin="round" />
<polygon points="428.5,379.3 481.5,332.3 653.8,382.0 664.0,405.2 628.3,435.8" fill="#667d36" stroke="#741420" stroke-width="1.01" stroke-linejoin="round" />
<polygon points="458.4,381.9 466.0,377.0 509.6,389.4 502.5,395.0" fill="#f9b9bf" stroke="#741420" stroke-width="0.72" stroke-linejoin="round" />
<polygon points="512.8,397.8 519.4,392.6 563.4,405.3 556.9,411.0" fill="#f9b9bf" stroke="#741420" stroke-width="0.72" stroke-linejoin="round" />
<ellipse cx="498.8" cy="377.2" rx="4.4" ry="4.0" fill="#54702c" stroke="#741420" stroke-width="1.45" stroke-dasharray="5 1.6"/>
<ellipse cx="497.2" cy="377.5" rx="1.6" ry="2.4" fill="#c8c8c8" stroke="none" stroke-width="1.16" />
<ellipse cx="500.6" cy="378.2" rx="1.7" ry="1.5" fill="#8fd048" stroke="none" stroke-width="1.16" />
<ellipse cx="566.3" cy="396.5" rx="4.4" ry="4.0" fill="#54702c" stroke="#741420" stroke-width="1.45" stroke-dasharray="5 1.6"/>
<ellipse cx="564.7" cy="396.8" rx="1.6" ry="2.4" fill="#c8c8c8" stroke="none" stroke-width="1.16" />
<ellipse cx="568.1" cy="397.5" rx="1.7" ry="1.5" fill="#8fd048" stroke="none" stroke-width="1.16" />
<line x1="519.0" y1="378.0" x2="519.0" y2="387.0" stroke="#5a0e1c" stroke-width="1.70" />
<line x1="517.7" y1="387.0" x2="520.3" y2="387.0" stroke="#5a0e1c" stroke-width="1.16" />
<line x1="526.5" y1="380.0" x2="526.5" y2="390.0" stroke="#5a0e1c" stroke-width="1.70" />
<line x1="525.2" y1="390.0" x2="527.8" y2="390.0" stroke="#5a0e1c" stroke-width="1.16" />
<line x1="533.8" y1="382.0" x2="533.8" y2="392.0" stroke="#5a0e1c" stroke-width="1.70" />
<line x1="532.5" y1="392.0" x2="535.1" y2="392.0" stroke="#5a0e1c" stroke-width="1.16" />
<line x1="541.0" y1="384.0" x2="541.0" y2="394.0" stroke="#5a0e1c" stroke-width="1.70" />
<line x1="539.7" y1="394.0" x2="542.3" y2="394.0" stroke="#5a0e1c" stroke-width="1.16" />
<line x1="548.4" y1="386.5" x2="548.4" y2="391.5" stroke="#5a0e1c" stroke-width="1.70" />
<line x1="547.1" y1="391.5" x2="549.7" y2="391.5" stroke="#5a0e1c" stroke-width="1.16" />
<line x1="590.5" y1="390.0" x2="590.5" y2="398.0" stroke="#5a0e1c" stroke-width="1.70" />
<line x1="589.2" y1="398.0" x2="591.8" y2="398.0" stroke="#5a0e1c" stroke-width="1.16" />
<line x1="598.0" y1="383.5" x2="598.0" y2="391.5" stroke="#5a0e1c" stroke-width="1.70" />
<line x1="596.7" y1="391.5" x2="599.3" y2="391.5" stroke="#5a0e1c" stroke-width="1.16" />
<line x1="610.0" y1="373.0" x2="610.0" y2="381.0" stroke="#5a0e1c" stroke-width="1.70" />
<line x1="608.7" y1="381.0" x2="611.3" y2="381.0" stroke="#5a0e1c" stroke-width="1.16" />
<line x1="613.8" y1="370.0" x2="613.8" y2="377.0" stroke="#5a0e1c" stroke-width="1.70" />
<line x1="612.5" y1="377.0" x2="615.1" y2="377.0" stroke="#5a0e1c" stroke-width="1.16" />
<polygon points="546.5,380.0 549.0,380.6 549.0,384.0 546.5,383.4" fill="#f9b9bf" stroke="#741420" stroke-width="0.58" stroke-linejoin="round" />
<polygon points="553.0,381.5 555.5,382.1 555.5,385.5 553.0,384.9" fill="#f9b9bf" stroke="#741420" stroke-width="0.58" stroke-linejoin="round" />
<polygon points="631.5,386.5 634.5,387.3 634.5,391.5 631.5,390.7" fill="#f9b9bf" stroke="#741420" stroke-width="0.58" stroke-linejoin="round" />
<polygon points="639.0,380.0 642.0,380.8 642.0,385.0 639.0,384.2" fill="#f9b9bf" stroke="#741420" stroke-width="0.58" stroke-linejoin="round" />
<polyline points="638.0,397.0 641.0,394.0 641.0,398.0" fill="none" stroke="#2a3a10" stroke-width="1.01" stroke-linejoin="round" stroke-linecap="round" />
<polygon points="545.0,345.3 553.4,336.9 579.7,344.4 579.7,355.6 572.2,366.9 545.0,359.4" fill="#f7aab2" stroke="#f7aab2" stroke-width="3.00" stroke-linejoin="round" />
<polygon points="545.0,345.3 572.2,352.5 572.2,366.9 545.0,359.4" fill="#f4a3ab" stroke="#741420" stroke-width="1.01" stroke-linejoin="round" />
<polygon points="572.2,352.5 579.7,344.4 579.7,355.6 572.2,366.9" fill="#e58e98" stroke="#741420" stroke-width="1.01" stroke-linejoin="round" />
<polygon points="545.0,345.3 553.4,336.9 579.7,344.4 572.2,352.5" fill="#f9b9bf" stroke="#741420" stroke-width="1.01" stroke-linejoin="round" />
<polyline points="547.0,348.5 570.5,355.0" fill="none" stroke="#741420" stroke-width="0.87" stroke-linejoin="round" stroke-linecap="round" />
<line x1="550.0" y1="349.5" x2="550.0" y2="352.0" stroke="#741420" stroke-width="0.87" />
<line x1="553.6" y1="350.5" x2="553.6" y2="353.0" stroke="#741420" stroke-width="0.87" />
<line x1="557.2" y1="351.5" x2="557.2" y2="354.0" stroke="#741420" stroke-width="0.87" />
<line x1="560.8" y1="352.5" x2="560.8" y2="355.0" stroke="#741420" stroke-width="0.87" />
<line x1="564.4" y1="353.5" x2="564.4" y2="356.0" stroke="#741420" stroke-width="0.87" />
<line x1="568.0" y1="354.5" x2="568.0" y2="357.0" stroke="#741420" stroke-width="0.87" />
<line x1="575.5" y1="357.0" x2="575.5" y2="363.0" stroke="#741420" stroke-width="1.45" />
<ellipse cx="467.3" cy="352.1" rx="9.3" ry="5.0" fill="#f7aab2" stroke="#f7aab2" stroke-width="2.50" />
<polygon points="458.3,336.6 458.3,351.1 462.8,355.3 471.8,355.3 476.3,351.1 476.3,336.6" fill="#f4a3ab" stroke="#f7aab2" stroke-width="3.00" stroke-linejoin="round" />
<polygon points="458.3,336.6 458.3,351.1 462.8,355.3 471.8,355.3 476.3,351.1 476.3,336.6" fill="#f4a3ab" stroke="#741420" stroke-width="1.01" stroke-linejoin="round" />
<line x1="462.8" y1="340.6" x2="462.8" y2="355.3" stroke="#741420" stroke-width="0.72" />
<line x1="471.8" y1="340.6" x2="471.8" y2="355.3" stroke="#741420" stroke-width="0.72" />
<path d="M458.3,339.6 Q467.3,345.6 476.3,339.6" fill="none" stroke="#741420" stroke-width="0.72" stroke-linejoin="round" stroke-linecap="round" />
<ellipse cx="467.3" cy="336.6" rx="9.0" ry="4.8" fill="#f9b9bf" stroke="#741420" stroke-width="1.16" />
<ellipse cx="467.3" cy="336.6" rx="5.6" ry="2.9" fill="#f4a3ab" stroke="#741420" stroke-width="1.01" />
<ellipse cx="467.3" cy="336.9" rx="3.2" ry="1.6" fill="#f9b9bf" stroke="#741420" stroke-width="0.72" />
<ellipse cx="444.1" cy="372.1" rx="9.3" ry="5.0" fill="#f7aab2" stroke="#f7aab2" stroke-width="2.50" />
<polygon points="435.1,356.6 435.1,371.1 439.6,375.3 448.6,375.3 453.1,371.1 453.1,356.6" fill="#f4a3ab" stroke="#f7aab2" stroke-width="3.00" stroke-linejoin="round" />
<polygon points="435.1,356.6 435.1,371.1 439.6,375.3 448.6,375.3 453.1,371.1 453.1,356.6" fill="#f4a3ab" stroke="#741420" stroke-width="1.01" stroke-linejoin="round" />
<line x1="439.6" y1="360.6" x2="439.6" y2="375.3" stroke="#741420" stroke-width="0.72" />
<line x1="448.6" y1="360.6" x2="448.6" y2="375.3" stroke="#741420" stroke-width="0.72" />
<path d="M435.1,359.6 Q444.1,365.6 453.1,359.6" fill="none" stroke="#741420" stroke-width="0.72" stroke-linejoin="round" stroke-linecap="round" />
<ellipse cx="444.1" cy="356.6" rx="9.0" ry="4.8" fill="#f9b9bf" stroke="#741420" stroke-width="1.16" />
<ellipse cx="444.1" cy="356.6" rx="5.6" ry="2.9" fill="#f4a3ab" stroke="#741420" stroke-width="1.01" />
<ellipse cx="444.1" cy="356.9" rx="3.2" ry="1.6" fill="#f9b9bf" stroke="#741420" stroke-width="0.72" />
<ellipse cx="649.4" cy="403.9" rx="9.3" ry="5.0" fill="#f7aab2" stroke="#f7aab2" stroke-width="2.50" />
<polygon points="640.4,388.4 640.4,402.9 644.9,407.1 653.9,407.1 658.4,402.9 658.4,388.4" fill="#f4a3ab" stroke="#f7aab2" stroke-width="3.00" stroke-linejoin="round" />
<polygon points="640.4,388.4 640.4,402.9 644.9,407.1 653.9,407.1 658.4,402.9 658.4,388.4" fill="#f4a3ab" stroke="#741420" stroke-width="1.01" stroke-linejoin="round" />
<line x1="644.9" y1="392.4" x2="644.9" y2="407.1" stroke="#741420" stroke-width="0.72" />
<line x1="653.9" y1="392.4" x2="653.9" y2="407.1" stroke="#741420" stroke-width="0.72" />
<path d="M640.4,391.4 Q649.4,397.4 658.4,391.4" fill="none" stroke="#741420" stroke-width="0.72" stroke-linejoin="round" stroke-linecap="round" />
<ellipse cx="649.4" cy="388.4" rx="9.0" ry="4.8" fill="#f9b9bf" stroke="#741420" stroke-width="1.16" />
<ellipse cx="649.4" cy="388.4" rx="5.6" ry="2.9" fill="#f4a3ab" stroke="#741420" stroke-width="1.01" />
<ellipse cx="649.4" cy="388.7" rx="3.2" ry="1.6" fill="#f9b9bf" stroke="#741420" stroke-width="0.72" />
<ellipse cx="626.0" cy="423.5" rx="9.3" ry="5.0" fill="#f7aab2" stroke="#f7aab2" stroke-width="2.50" />
<polygon points="617.0,408.0 617.0,422.5 621.5,426.7 630.5,426.7 635.0,422.5 635.0,408.0" fill="#f4a3ab" stroke="#f7aab2" stroke-width="3.00" stroke-linejoin="round" />
<polygon points="617.0,408.0 617.0,422.5 621.5,426.7 630.5,426.7 635.0,422.5 635.0,408.0" fill="#f4a3ab" stroke="#741420" stroke-width="1.01" stroke-linejoin="round" />
<line x1="621.5" y1="412.0" x2="621.5" y2="426.7" stroke="#741420" stroke-width="0.72" />
<line x1="630.5" y1="412.0" x2="630.5" y2="426.7" stroke="#741420" stroke-width="0.72" />
<path d="M617.0,411.0 Q626.0,417.0 635.0,411.0" fill="none" stroke="#741420" stroke-width="0.72" stroke-linejoin="round" stroke-linecap="round" />
<ellipse cx="626.0" cy="408.0" rx="9.0" ry="4.8" fill="#f9b9bf" stroke="#741420" stroke-width="1.16" />
<ellipse cx="626.0" cy="408.0" rx="5.6" ry="2.9" fill="#f4a3ab" stroke="#741420" stroke-width="1.01" />
<ellipse cx="626.0" cy="408.3" rx="3.2" ry="1.6" fill="#f9b9bf" stroke="#741420" stroke-width="0.72" />
<polygon points="763.5,180.0 763.5,198.0 771.5,198.0 771.5,180.0" fill="#fff" stroke="#000" stroke-width="1.01" stroke-linejoin="round" />
<path d="M657.8,283 L657.8,291.5 Q660.7,294 663.6,291.5 L663.6,283 Z" fill="#fff" stroke="#000" stroke-width="0.87" stroke-linejoin="round" stroke-linecap="round" />
<polygon points="166.0,178.6 627.6,311.0 627.6,315.5 166.0,183.1" fill="#12a43a" stroke="#000" stroke-width="1.01" stroke-linejoin="round" />
<polygon points="627.6,311.0 829.5,136.0 829.5,140.5 627.6,315.5" fill="#20a846" stroke="#000" stroke-width="1.01" stroke-linejoin="round" />
<polygon points="364.0,2.0 829.5,136.0 627.6,311.0 166.0,178.6 164.0,174.0" fill="#22b04c" stroke="#000" stroke-width="1.01" stroke-linejoin="round" />
<path d="M315.5,49.1 L315.5,51.9 A8.8,4.4 0 0 0 333.1,51.9 L333.1,49.1 Z" fill="#ececec" stroke="#000" stroke-width="0.87" stroke-linejoin="round" stroke-linecap="round" />
<ellipse cx="324.3" cy="49.1" rx="8.8" ry="4.4" fill="#fafafa" stroke="#000" stroke-width="0.87" />
<ellipse cx="324.3" cy="48.2" rx="4.0" ry="2.2" fill="#c8c8c8" stroke="#000" stroke-width="1.01" />
<ellipse cx="324.3" cy="48.2" rx="1.8" ry="1.1" fill="#333" stroke="#000" stroke-width="0.43" />
<path d="M406.6,36.5 L406.6,39.3 A8.6,4.3 0 0 0 423.8,39.3 L423.8,36.5 Z" fill="#ececec" stroke="#000" stroke-width="0.87" stroke-linejoin="round" stroke-linecap="round" />
<ellipse cx="415.2" cy="36.5" rx="8.6" ry="4.3" fill="#fafafa" stroke="#000" stroke-width="0.87" />
<ellipse cx="415.2" cy="35.6" rx="3.9" ry="2.1" fill="#c8c8c8" stroke="#000" stroke-width="1.01" />
<ellipse cx="415.2" cy="35.6" rx="1.7" ry="1.0" fill="#333" stroke="#000" stroke-width="0.43" />
<path d="M421.1,79.0 L421.1,81.8 A8.4,4.2 0 0 0 437.9,81.8 L437.9,79.0 Z" fill="#ececec" stroke="#000" stroke-width="0.87" stroke-linejoin="round" stroke-linecap="round" />
<ellipse cx="429.5" cy="79.0" rx="8.4" ry="4.2" fill="#fafafa" stroke="#000" stroke-width="0.87" />
<ellipse cx="429.5" cy="78.1" rx="3.8" ry="2.1" fill="#c8c8c8" stroke="#000" stroke-width="1.01" />
<ellipse cx="429.5" cy="78.1" rx="1.7" ry="1.0" fill="#333" stroke="#000" stroke-width="0.43" />
<path d="M367.6,124.5 L367.6,127.3 A8.4,4.2 0 0 0 384.4,127.3 L384.4,124.5 Z" fill="#ececec" stroke="#000" stroke-width="0.87" stroke-linejoin="round" stroke-linecap="round" />
<ellipse cx="376.0" cy="124.5" rx="8.4" ry="4.2" fill="#fafafa" stroke="#000" stroke-width="0.87" />
<ellipse cx="376.0" cy="123.6" rx="3.8" ry="2.1" fill="#c8c8c8" stroke="#000" stroke-width="1.01" />
<ellipse cx="376.0" cy="123.6" rx="1.7" ry="1.0" fill="#333" stroke="#000" stroke-width="0.43" />
<path d="M513.1,104.2 L513.1,107.0 A8.4,4.2 0 0 0 529.9,107.0 L529.9,104.2 Z" fill="#ececec" stroke="#000" stroke-width="0.87" stroke-linejoin="round" stroke-linecap="round" />
<ellipse cx="521.5" cy="104.2" rx="8.4" ry="4.2" fill="#fafafa" stroke="#000" stroke-width="0.87" />
<ellipse cx="521.5" cy="103.3" rx="3.8" ry="2.1" fill="#c8c8c8" stroke="#000" stroke-width="1.01" />
<ellipse cx="521.5" cy="103.3" rx="1.7" ry="1.0" fill="#333" stroke="#000" stroke-width="0.43" />
<path d="M408.6,216.3 L408.6,219.1 A8.4,4.2 0 0 0 425.4,219.1 L425.4,216.3 Z" fill="#ececec" stroke="#000" stroke-width="0.87" stroke-linejoin="round" stroke-linecap="round" />
<ellipse cx="417.0" cy="216.3" rx="8.4" ry="4.2" fill="#fafafa" stroke="#000" stroke-width="0.87" />
<ellipse cx="417.0" cy="215.4" rx="3.8" ry="2.1" fill="#c8c8c8" stroke="#000" stroke-width="1.01" />
<ellipse cx="417.0" cy="215.4" rx="1.7" ry="1.0" fill="#333" stroke="#000" stroke-width="0.43" />
<path d="M432.1,222.9 L432.1,225.7 A8.4,4.2 0 0 0 448.9,225.7 L448.9,222.9 Z" fill="#ececec" stroke="#000" stroke-width="0.87" stroke-linejoin="round" stroke-linecap="round" />
<ellipse cx="440.5" cy="222.9" rx="8.4" ry="4.2" fill="#fafafa" stroke="#000" stroke-width="0.87" />
<ellipse cx="440.5" cy="222.0" rx="3.8" ry="2.1" fill="#c8c8c8" stroke="#000" stroke-width="1.01" />
<ellipse cx="440.5" cy="222.0" rx="1.7" ry="1.0" fill="#333" stroke="#000" stroke-width="0.43" />
<path d="M759.6,175.5 L759.6,178.3 A8.4,4.2 0 0 0 776.4,178.3 L776.4,175.5 Z" fill="#ececec" stroke="#000" stroke-width="0.87" stroke-linejoin="round" stroke-linecap="round" />
<ellipse cx="768.0" cy="175.5" rx="8.4" ry="4.2" fill="#fafafa" stroke="#000" stroke-width="0.87" />
<ellipse cx="768.0" cy="174.6" rx="3.8" ry="2.1" fill="#c8c8c8" stroke="#000" stroke-width="1.01" />
<ellipse cx="768.0" cy="174.6" rx="1.7" ry="1.0" fill="#333" stroke="#000" stroke-width="0.43" />
<path d="M652.0,268.2 L652.0,271.0 A7.7,3.9 0 0 0 667.4,271.0 L667.4,268.2 Z" fill="#ececec" stroke="#000" stroke-width="0.87" stroke-linejoin="round" stroke-linecap="round" />
<ellipse cx="659.7" cy="268.2" rx="7.7" ry="3.9" fill="#fafafa" stroke="#000" stroke-width="0.87" />
<ellipse cx="659.7" cy="267.3" rx="3.5" ry="1.9" fill="#c8c8c8" stroke="#000" stroke-width="1.01" />
<ellipse cx="659.7" cy="267.3" rx="1.5" ry="0.9" fill="#333" stroke="#000" stroke-width="0.43" />
<path d="M641.0,278.8 L641.0,281.6 A7.7,3.9 0 0 0 656.4,281.6 L656.4,278.8 Z" fill="#ececec" stroke="#000" stroke-width="0.87" stroke-linejoin="round" stroke-linecap="round" />
<ellipse cx="648.7" cy="278.8" rx="7.7" ry="3.9" fill="#fafafa" stroke="#000" stroke-width="0.87" />
<ellipse cx="648.7" cy="277.9" rx="3.5" ry="1.9" fill="#c8c8c8" stroke="#000" stroke-width="1.01" />
<ellipse cx="648.7" cy="277.9" rx="1.5" ry="0.9" fill="#333" stroke="#000" stroke-width="0.43" />
<polygon points="365.0,21.3 376.3,15.5 391.3,20.0 380.0,28.0" fill="#10d428" stroke="#000" stroke-width="1.01" stroke-linejoin="round" />
<polygon points="369.5,22.3 378.0,18.2 389.0,21.2 380.0,27.3" fill="#2a6fd0" stroke="#000" stroke-width="0.58" stroke-linejoin="round" />
<polygon points="293.8,67.0 309.3,72.5 309.3,76.7 293.8,71.2" fill="#2e2e2e" stroke="#000" stroke-width="0.87" stroke-linejoin="round" />
<polygon points="309.3,72.5 316.8,67.0 316.8,71.2 309.3,76.7" fill="#3a3a3a" stroke="#000" stroke-width="0.87" stroke-linejoin="round" />
<polygon points="293.8,67.0 301.3,61.5 316.8,67.0 309.3,72.5" fill="#454545" stroke="#000" stroke-width="0.87" stroke-linejoin="round" />
<polygon points="350.0,63.8 361.3,68.0 361.3,70.3 350.0,66.1" fill="#2e3348" stroke="#000" stroke-width="0.87" stroke-linejoin="round" />
<polygon points="361.3,68.0 370.0,61.3 370.0,63.6 361.3,70.3" fill="#3a4058" stroke="#000" stroke-width="0.87" stroke-linejoin="round" />
<polygon points="350.0,63.8 358.8,57.5 370.0,61.3 361.3,68.0" fill="#4b5270" stroke="#000" stroke-width="0.87" stroke-linejoin="round" />
<polygon points="378.8,65.5 386.3,68.0 386.3,69.6 378.8,67.1" fill="#e8c020" stroke="#000" stroke-width="0.87" stroke-linejoin="round" />
<polygon points="386.3,68.0 391.3,63.8 391.3,65.4 386.3,69.6" fill="#e8c020" stroke="#000" stroke-width="0.87" stroke-linejoin="round" />
<polygon points="378.8,65.5 383.8,61.3 391.3,63.8 386.3,68.0" fill="#3a3a3a" stroke="#000" stroke-width="0.87" stroke-linejoin="round" />
<polygon points="335.0,82.5 344.5,86.3 344.5,88.3 335.0,84.5" fill="#5a5a70" stroke="#000" stroke-width="0.87" stroke-linejoin="round" />
<polygon points="344.5,86.3 352.0,80.5 352.0,82.5 344.5,88.3" fill="#6a6a80" stroke="#000" stroke-width="0.87" stroke-linejoin="round" />
<polygon points="335.0,82.5 342.5,77.5 352.0,80.5 344.5,86.3" fill="#8c8ca4" stroke="#000" stroke-width="0.87" stroke-linejoin="round" />
<polygon points="318.8,110.0 335.0,116.3 335.0,120.8 318.8,114.5" fill="#2b3048" stroke="#000" stroke-width="0.87" stroke-linejoin="round" />
<polygon points="335.0,116.3 346.3,106.3 346.3,110.8 335.0,120.8" fill="#3a4060" stroke="#000" stroke-width="0.87" stroke-linejoin="round" />
<polygon points="318.8,110.0 330.0,100.5 346.3,106.3 335.0,116.3" fill="#4a5070" stroke="#000" stroke-width="0.87" stroke-linejoin="round" />
<polygon points="366.0,104.5 372.5,106.8 372.5,109.8 366.0,107.5" fill="#303040" stroke="#000" stroke-width="0.87" stroke-linejoin="round" />
<polygon points="372.5,106.8 376.5,103.5 376.5,106.5 372.5,109.8" fill="#404050" stroke="#000" stroke-width="0.87" stroke-linejoin="round" />
<polygon points="366.0,104.5 370.0,101.5 376.5,103.5 372.5,106.8" fill="#505060" stroke="#000" stroke-width="0.87" stroke-linejoin="round" />
<polygon points="361.0,108.0 367.0,110.5 367.0,113.0 361.0,110.5" fill="#202020" stroke="#000" stroke-width="0.87" stroke-linejoin="round" />
<polygon points="367.0,110.5 370.0,107.5 370.0,110.0 367.0,113.0" fill="#303030" stroke="#000" stroke-width="0.87" stroke-linejoin="round" />
<polygon points="361.0,108.0 364.0,105.5 370.0,107.5 367.0,110.5" fill="#404040" stroke="#000" stroke-width="0.87" stroke-linejoin="round" />
<path d="M395.5,57 L395.5,66 A15,8.5 0 0 0 425.5,66 L425.5,57 Z" fill="#3e3e4c" stroke="#000" stroke-width="0.87" stroke-linejoin="round" stroke-linecap="round" />
<path d="M395.5,62 A15,8.5 0 0 0 425.5,62" fill="none" stroke="#111" stroke-width="0.72" stroke-linejoin="round" stroke-linecap="round" />
<path d="M395.5,57 Q395.5,48.5 404,47.5 L417,47.5 Q425.5,48.5 425.5,57 Q425.5,64 417,65.5 L404,65.5 Q395.5,64 395.5,57 Z" fill="#6c6c80" stroke="#000" stroke-width="0.87" stroke-linejoin="round" stroke-linecap="round" />
<polygon points="376.9,91.8 411.3,104.7 411.3,118.0 376.9,105.1" fill="#787892" stroke="#000" stroke-width="0.87" stroke-linejoin="round" />
<polygon points="411.3,104.7 430.0,86.7 430.0,100.0 411.3,118.0" fill="#7272a4" stroke="#000" stroke-width="0.87" stroke-linejoin="round" />
<polygon points="376.9,91.8 395.6,74.2 430.0,86.7 411.3,104.7" fill="#84849e" stroke="#000" stroke-width="0.87" stroke-linejoin="round" />
<ellipse cx="203.0" cy="156.7" rx="4.5" ry="2.4" fill="#c8f0d4" stroke="#0a6a2a" stroke-width="0.72" />
<path d="M228.4,106 L228.4,137 L262,148 L287.8,143.4 Q298,140 298.5,133 L300.3,95 L296.4,101.3 L267.5,115.3 L230,105.2 Z" fill="#fdfdff" stroke="#000" stroke-width="1.01" stroke-linejoin="round" stroke-linecap="round" />
<path d="M267.5,115.3 L296.4,101.3 L300.3,95 L298.5,133 Q298,140 287.8,143.4 L267.5,147 Z" fill="#ececff" stroke="#000" stroke-width="1.01" stroke-linejoin="round" stroke-linecap="round" />
<path d="M284.7,109 L285.5,144" fill="none" stroke="#000" stroke-width="0.72" stroke-linejoin="round" stroke-linecap="round" />
<path d="M264.5,114.5 L264.5,147" fill="none" stroke="#000" stroke-width="0.72" stroke-linejoin="round" stroke-linecap="round" />
<path d="M230,105.2 Q231,96 233.1,93.4 Q236,87.5 240.2,84.8 L259.7,77.5 L296.4,89.5 Q300,91.5 299.5,94.2 L296.4,101.3 Q292,106 284.7,109 L267.5,115.3 Q265,115.6 262,114.2 Z" fill="#ffffff" stroke="#000" stroke-width="1.01" stroke-linejoin="round" stroke-linecap="round" />
<path d="M230.5,108.5 L262,117.5 Q265,118.5 268,117.8 L285,111.5 Q293,108 297,103.5" fill="none" stroke="#000" stroke-width="0.72" stroke-linejoin="round" stroke-linecap="round" />
<path d="M258.5,80 L259.2,82.5" fill="none" stroke="#000" stroke-width="0.87" stroke-linejoin="round" stroke-linecap="round" />
<path d="M262,81 L291.5,90.5" fill="none" stroke="#222" stroke-width="1.60" stroke-linejoin="round" stroke-linecap="round" stroke-dasharray="1.2 0.5"/>
<polygon points="231.6,126.5 250.0,131.0 256.6,134.0 255.0,142.0 247.0,140.0 231.6,136.0" fill="#fff" stroke="#000" stroke-width="1.01" stroke-linejoin="round" />
<polyline points="234.0,128.0 234.0,135.5" fill="none" stroke="#000" stroke-width="0.72" stroke-linejoin="round" stroke-linecap="round" />
<polyline points="243.0,129.5 243.0,139.0" fill="none" stroke="#000" stroke-width="0.72" stroke-linejoin="round" stroke-linecap="round" />
<polyline points="250.0,131.0 249.0,140.5" fill="none" stroke="#000" stroke-width="0.72" stroke-linejoin="round" stroke-linecap="round" />
<polygon points="206.6,128.6 214.6,122.0 232.0,127.0 232.0,138.5 229.0,140.0 228.4,150.5 207.3,143.6" fill="#c6c6c6" stroke="#000" stroke-width="1.01" stroke-linejoin="round" />
<polyline points="206.6,128.6 209.0,127.5 226.0,132.5 232.0,127.0" fill="none" stroke="#666" stroke-width="0.58" stroke-linejoin="round" stroke-linecap="round" />
<ellipse cx="217.5" cy="131.6" rx="3.1" ry="3.3" fill="#22b04c" stroke="#000" stroke-width="1.01" />
<ellipse cx="218.0" cy="131.6" rx="2.1" ry="2.6" fill="#0e8a30" stroke="none" stroke-width="1.16" />
<ellipse cx="244.5" cy="142.8" rx="2.8" ry="2.6" fill="#0e8a30" stroke="#000" stroke-width="0.87" />
<polygon points="256.6,132.5 283.5,140.2 282.5,148.5 255.0,141.0" fill="#d6d6d6" stroke="#000" stroke-width="1.01" stroke-linejoin="round" />
<polygon points="256.0,137.5 283.0,145.5 282.5,148.5 255.0,141.0" fill="#c8c8e8" stroke="none" stroke-width="1.16" stroke-linejoin="round" />
<ellipse cx="282.6" cy="144.3" rx="2.6" ry="4.3" fill="#f4f4f4" stroke="#000" stroke-width="1.01" transform="rotate(12 282.6 144.3)"/>
<polygon points="198.8,161.3 217.5,167.5 217.5,176.0 208.9,183.0 198.8,180.0" fill="#3a4264" stroke="#000" stroke-width="0.72" stroke-linejoin="round" />
<polygon points="162.0,168.3 194.8,176.9 194.8,195.6 162.0,186.3" fill="#c2c2c2" stroke="#000" stroke-width="1.16" stroke-linejoin="round" />
<polygon points="194.8,176.9 207.3,165.2 207.3,184.0 194.8,195.6" fill="#c6c6c6" stroke="#000" stroke-width="1.16" stroke-linejoin="round" />
<polygon points="162.0,168.3 175.3,156.6 207.3,165.2 194.8,176.9" fill="#cacaca" stroke="#000" stroke-width="1.16" stroke-linejoin="round" />
<polyline points="166.5,164.3 199.0,172.9" fill="none" stroke="#222" stroke-width="1.74" stroke-linejoin="round" stroke-linecap="round" />
<polyline points="171.3,160.2 181.5,162.9 177.0,166.9" fill="none" stroke="#000" stroke-width="1.16" stroke-linejoin="round" stroke-linecap="round" />
<polyline points="187.8,169.9 192.5,165.7 203.0,168.6" fill="none" stroke="#000" stroke-width="1.16" stroke-linejoin="round" stroke-linecap="round" />
<polyline points="177.0,167.1 173.0,170.8" fill="none" stroke="#000" stroke-width="1.16" stroke-linejoin="round" stroke-linecap="round" />
<polyline points="188.0,170.0 184.0,173.8" fill="none" stroke="#000" stroke-width="1.16" stroke-linejoin="round" stroke-linecap="round" />
<polygon points="164.3,171.6 172.6,173.8 172.6,187.4 164.3,185.2" fill="#c8c8c8" stroke="#000" stroke-width="0.80" stroke-linejoin="round" />
<polygon points="165.9,175.8 171.1,177.2 171.1,185.4 165.9,184.0" fill="#c0c0c0" stroke="#444" stroke-width="0.58" stroke-linejoin="round" />
<polygon points="165.9,184.0 168.7,179.4 171.1,181.1 171.1,185.4" fill="#e2e2e2" stroke="#444" stroke-width="0.58" stroke-linejoin="round" />
<polyline points="165.5,174.3 171.5,175.9" fill="none" stroke="#555" stroke-width="1.16" stroke-linejoin="round" stroke-linecap="round" stroke-dasharray="1.2 0.8"/>
<polygon points="174.6,174.3 182.9,176.5 182.9,190.1 174.6,187.9" fill="#c8c8c8" stroke="#000" stroke-width="0.80" stroke-linejoin="round" />
<polygon points="176.2,178.5 181.4,179.9 181.4,188.1 176.2,186.7" fill="#c0c0c0" stroke="#444" stroke-width="0.58" stroke-linejoin="round" />
<polygon points="176.2,186.7 179.0,182.1 181.4,183.8 181.4,188.1" fill="#e2e2e2" stroke="#444" stroke-width="0.58" stroke-linejoin="round" />
<polyline points="175.8,177.0 181.8,178.6" fill="none" stroke="#555" stroke-width="1.16" stroke-linejoin="round" stroke-linecap="round" stroke-dasharray="1.2 0.8"/>
<polygon points="184.9,177.0 193.2,179.2 193.2,192.8 184.9,190.6" fill="#c8c8c8" stroke="#000" stroke-width="0.80" stroke-linejoin="round" />
<polygon points="186.5,181.2 191.7,182.6 191.7,190.8 186.5,189.4" fill="#c0c0c0" stroke="#444" stroke-width="0.58" stroke-linejoin="round" />
<polygon points="186.5,189.4 189.3,184.8 191.7,186.5 191.7,190.8" fill="#e2e2e2" stroke="#444" stroke-width="0.58" stroke-linejoin="round" />
<polyline points="186.1,179.7 192.1,181.3" fill="none" stroke="#555" stroke-width="1.16" stroke-linejoin="round" stroke-linecap="round" stroke-dasharray="1.2 0.8"/>
<polygon points="236.5,172.0 264.4,146.0 264.4,181.0 237.8,203.6" fill="#c2c2c2" stroke="#000" stroke-width="1.01" stroke-linejoin="round" />
<polygon points="220.6,164.5 250.3,142.5 264.4,146.0 236.5,172.0" fill="#cacaca" stroke="#000" stroke-width="1.01" stroke-linejoin="round" />
<polygon points="217.5,167.5 237.0,171.6 237.5,203.5 218.3,199.6" fill="#d2d2d2" stroke="#000" stroke-width="1.01" stroke-linejoin="round" />
<polygon points="221.0,170.0 234.0,172.7 234.0,199.5 221.8,197.0" fill="#555" stroke="#000" stroke-width="0.72" stroke-linejoin="round" />
<polygon points="223.5,172.5 227.0,173.2 227.0,197.5 223.8,196.8" fill="#e8e8e8" stroke="#000" stroke-width="0.58" stroke-linejoin="round" />
<polygon points="229.5,175.0 233.5,175.8 233.5,197.0 229.5,196.0" fill="#fff" stroke="#000" stroke-width="0.58" stroke-linejoin="round" stroke-dasharray="1.6 1.2"/>
<polygon points="221.4,200.5 233.0,203.6 233.0,207.5 222.0,204.4" fill="#d8d8d8" stroke="#000" stroke-width="0.87" stroke-linejoin="round" />
<line x1="227.0" y1="202.0" x2="227.0" y2="206.0" stroke="#000" stroke-width="0.58" />
<polygon points="239.0,177.5 246.5,169.5 246.5,175.5 239.5,182.5" fill="#b4b4b4" stroke="#000" stroke-width="1.30" stroke-linejoin="round" />
<polygon points="239.5,194.5 246.5,186.5 246.5,192.0 240.0,198.8" fill="#b4b4b4" stroke="#000" stroke-width="1.30" stroke-linejoin="round" />
<polyline points="250.0,163.5 257.0,157.5" fill="none" stroke="#333" stroke-width="1.60" stroke-linejoin="round" stroke-linecap="round" />
<polyline points="230.0,163.5 236.0,158.5 240.5,159.5 235.0,164.5" fill="none" stroke="#000" stroke-width="0.87" stroke-linejoin="round" stroke-linecap="round" />
<ellipse cx="253.7" cy="171.5" rx="1.0" ry="1.5" fill="#eee" stroke="#000" stroke-width="0.72" />
<polyline points="262.5,161.5 262.5,165.0" fill="none" stroke="#333" stroke-width="1.40" stroke-linejoin="round" stroke-linecap="round" />
<polyline points="263.0,172.0 263.0,176.0" fill="none" stroke="#333" stroke-width="1.40" stroke-linejoin="round" stroke-linecap="round" />
<polyline points="252.5,191.0 252.5,193.5 254.5,192.0" fill="none" stroke="#000" stroke-width="1.16" stroke-linejoin="round" stroke-linecap="round" />
<polyline points="258.5,185.5 258.5,188.0 260.0,187.0" fill="none" stroke="#000" stroke-width="1.16" stroke-linejoin="round" stroke-linecap="round" />
<polygon points="264.4,160.2 289.5,165.6 289.5,168.0 264.4,162.6" fill="#d4d4d4" stroke="#000" stroke-width="0.87" stroke-linejoin="round" />
<path d="M286,158 L286,155 Q286,154 287.5,154 L292,155 L292,157" fill="none" stroke="#222" stroke-width="1.30" stroke-linejoin="round" stroke-linecap="round" />
<path d="M286,158 L286,155 Q286,154 287.5,154 L292,155 L292,157" fill="none" stroke="#ddd" stroke-width="0.72" stroke-linejoin="round" stroke-linecap="round" />
<polygon points="321.0,130.9 339.8,136.5 339.8,156.1 321.0,150.5" fill="#d2d2d2" stroke="#000" stroke-width="1.01" stroke-linejoin="round" />
<polygon points="339.8,136.5 369.8,108.8 369.8,128.4 339.8,156.1" fill="#d6d6d6" stroke="#000" stroke-width="1.01" stroke-linejoin="round" />
<polygon points="321.0,130.9 351.6,103.5 369.8,108.8 339.8,136.5" fill="#dedede" stroke="#000" stroke-width="1.01" stroke-linejoin="round" />
<polygon points="331.0,124.7 350.3,108.4 360.4,111.6 340.9,128.4" fill="#1c1c1c" stroke="#000" stroke-width="0.58" stroke-linejoin="round" />
<polyline points="335.0,124.0 352.0,110.5" fill="none" stroke="#bbb" stroke-width="1.74" stroke-linejoin="round" stroke-linecap="round" stroke-dasharray="1.5 1.2"/>
<polyline points="339.5,125.5 356.5,112.0" fill="none" stroke="#999" stroke-width="1.74" stroke-linejoin="round" stroke-linecap="round" stroke-dasharray="1.1 1.4"/>
<polygon points="277.7,171.4 324.4,183.8 324.4,187.3 277.7,174.9" fill="#e0b000" stroke="#000" stroke-width="0.87" stroke-linejoin="round" />
<polygon points="324.4,183.8 350.3,161.2 350.3,164.5 324.4,187.3" fill="#e8bc10" stroke="#000" stroke-width="0.87" stroke-linejoin="round" />
<path d="M277.7,171.4 L304.5,149.5 Q306.3,148.3 308.5,149 L349,159.5 Q351,160.5 349.5,162 L326,183 Q324.4,184.2 322,183.5 L279,172.5 Q277,172 277.7,171.4 Z" fill="#ffd521" stroke="#000" stroke-width="1.01" stroke-linejoin="round" stroke-linecap="round" />
<polyline points="278.5,173.3 324.0,185.3 350.0,162.8" fill="none" stroke="#7a5c00" stroke-width="0.72" stroke-linejoin="round" stroke-linecap="round" />
<polygon points="357.9,143.5 370.5,132.6 383.5,135.9 386.8,141.0 396.5,141.9 449.0,155.3 452.0,158.5 455.3,170.9 463.5,159.6 478.5,163.0 478.5,187.0 466.2,199.0 357.9,166.5" fill="#cecece" stroke="#000" stroke-width="1.01" stroke-linejoin="round" />
<path d="M396.5,141.9 L449,155.3 Q452,156.5 452,160 L452,176 L394.8,160 L394.8,144 Q395,141.5 396.5,141.9 Z" fill="#e4e4e4" stroke="#000" stroke-width="1.01" stroke-linejoin="round" stroke-linecap="round" />
<polyline points="397.5,144.3 449.5,157.8" fill="none" stroke="#000" stroke-width="0.72" stroke-linejoin="round" stroke-linecap="round" />
<polygon points="361.5,144.5 371.0,136.0 382.0,139.0 384.5,143.5 384.5,151.0 376.0,148.7" fill="#c2c2c2" stroke="#000" stroke-width="0.72" stroke-linejoin="round" />
<polygon points="371.0,136.0 382.0,139.0 384.5,143.5 384.5,151.0 371.0,147.0" fill="#e4e4e4" stroke="#000" stroke-width="0.72" stroke-linejoin="round" />
<polyline points="371.0,136.0 371.0,147.0" fill="none" stroke="#000" stroke-width="0.72" stroke-linejoin="round" stroke-linecap="round" />
<line x1="378.3" y1="139.4" x2="378.3" y2="147.9" stroke="#5c5c5c" stroke-width="2.10" stroke-linecap="round"/>
<line x1="375.3" y1="143.4" x2="375.3" y2="150.9" stroke="#686868" stroke-width="2.10" stroke-linecap="round"/>
<line x1="379.1" y1="139.4" x2="379.1" y2="147.9" stroke="#333" stroke-width="0.58" />
<line x1="376.2" y1="143.4" x2="376.2" y2="150.9" stroke="#333" stroke-width="0.58" />
<line x1="385.2" y1="141.3" x2="385.2" y2="149.8" stroke="#5c5c5c" stroke-width="2.10" stroke-linecap="round"/>
<line x1="382.2" y1="145.3" x2="382.2" y2="152.8" stroke="#686868" stroke-width="2.10" stroke-linecap="round"/>
<line x1="386.0" y1="141.3" x2="386.0" y2="149.8" stroke="#333" stroke-width="0.58" />
<line x1="383.1" y1="145.3" x2="383.1" y2="152.8" stroke="#333" stroke-width="0.58" />
<line x1="392.0" y1="143.3" x2="392.0" y2="151.8" stroke="#5c5c5c" stroke-width="2.10" stroke-linecap="round"/>
<line x1="389.0" y1="147.3" x2="389.0" y2="154.8" stroke="#686868" stroke-width="2.10" stroke-linecap="round"/>
<line x1="392.8" y1="143.3" x2="392.8" y2="151.8" stroke="#333" stroke-width="0.58" />
<line x1="389.9" y1="147.3" x2="389.9" y2="154.8" stroke="#333" stroke-width="0.58" />
<line x1="398.9" y1="145.2" x2="398.9" y2="153.7" stroke="#5c5c5c" stroke-width="2.10" stroke-linecap="round"/>
<line x1="395.9" y1="149.2" x2="395.9" y2="156.7" stroke="#686868" stroke-width="2.10" stroke-linecap="round"/>
<line x1="399.7" y1="145.2" x2="399.7" y2="153.7" stroke="#333" stroke-width="0.58" />
<line x1="396.8" y1="149.2" x2="396.8" y2="156.7" stroke="#333" stroke-width="0.58" />
<line x1="405.7" y1="147.1" x2="405.7" y2="155.6" stroke="#5c5c5c" stroke-width="2.10" stroke-linecap="round"/>
<line x1="402.7" y1="151.1" x2="402.7" y2="158.6" stroke="#686868" stroke-width="2.10" stroke-linecap="round"/>
<line x1="406.5" y1="147.1" x2="406.5" y2="155.6" stroke="#333" stroke-width="0.58" />
<line x1="403.6" y1="151.1" x2="403.6" y2="158.6" stroke="#333" stroke-width="0.58" />
<line x1="412.6" y1="149.0" x2="412.6" y2="157.5" stroke="#5c5c5c" stroke-width="2.10" stroke-linecap="round"/>
<line x1="409.6" y1="153.0" x2="409.6" y2="160.5" stroke="#686868" stroke-width="2.10" stroke-linecap="round"/>
<line x1="413.4" y1="149.0" x2="413.4" y2="157.5" stroke="#333" stroke-width="0.58" />
<line x1="410.4" y1="153.0" x2="410.4" y2="160.5" stroke="#333" stroke-width="0.58" />
<line x1="419.4" y1="151.0" x2="419.4" y2="159.5" stroke="#5c5c5c" stroke-width="2.10" stroke-linecap="round"/>
<line x1="416.4" y1="155.0" x2="416.4" y2="162.5" stroke="#686868" stroke-width="2.10" stroke-linecap="round"/>
<line x1="420.2" y1="151.0" x2="420.2" y2="159.5" stroke="#333" stroke-width="0.58" />
<line x1="417.3" y1="155.0" x2="417.3" y2="162.5" stroke="#333" stroke-width="0.58" />
<line x1="426.2" y1="152.9" x2="426.2" y2="161.4" stroke="#5c5c5c" stroke-width="2.10" stroke-linecap="round"/>
<line x1="423.2" y1="156.9" x2="423.2" y2="164.4" stroke="#686868" stroke-width="2.10" stroke-linecap="round"/>
<line x1="427.1" y1="152.9" x2="427.1" y2="161.4" stroke="#333" stroke-width="0.58" />
<line x1="424.1" y1="156.9" x2="424.1" y2="164.4" stroke="#333" stroke-width="0.58" />
<line x1="433.1" y1="154.8" x2="433.1" y2="163.3" stroke="#5c5c5c" stroke-width="2.10" stroke-linecap="round"/>
<line x1="430.1" y1="158.8" x2="430.1" y2="166.3" stroke="#686868" stroke-width="2.10" stroke-linecap="round"/>
<line x1="433.9" y1="154.8" x2="433.9" y2="163.3" stroke="#333" stroke-width="0.58" />
<line x1="431.0" y1="158.8" x2="431.0" y2="166.3" stroke="#333" stroke-width="0.58" />
<line x1="439.9" y1="156.8" x2="439.9" y2="165.3" stroke="#5c5c5c" stroke-width="2.10" stroke-linecap="round"/>
<line x1="436.9" y1="160.8" x2="436.9" y2="168.3" stroke="#686868" stroke-width="2.10" stroke-linecap="round"/>
<line x1="440.8" y1="156.8" x2="440.8" y2="165.3" stroke="#333" stroke-width="0.58" />
<line x1="437.8" y1="160.8" x2="437.8" y2="168.3" stroke="#333" stroke-width="0.58" />
<line x1="446.8" y1="158.7" x2="446.8" y2="167.2" stroke="#5c5c5c" stroke-width="2.10" stroke-linecap="round"/>
<line x1="443.8" y1="162.7" x2="443.8" y2="170.2" stroke="#686868" stroke-width="2.10" stroke-linecap="round"/>
<line x1="447.6" y1="158.7" x2="447.6" y2="167.2" stroke="#333" stroke-width="0.58" />
<line x1="444.7" y1="162.7" x2="444.7" y2="170.2" stroke="#333" stroke-width="0.58" />
<line x1="453.6" y1="160.6" x2="453.6" y2="169.1" stroke="#5c5c5c" stroke-width="2.10" stroke-linecap="round"/>
<line x1="450.6" y1="164.6" x2="450.6" y2="172.1" stroke="#686868" stroke-width="2.10" stroke-linecap="round"/>
<line x1="454.4" y1="160.6" x2="454.4" y2="169.1" stroke="#333" stroke-width="0.58" />
<line x1="451.5" y1="164.6" x2="451.5" y2="172.1" stroke="#333" stroke-width="0.58" />
<polygon points="357.9,143.5 376.0,148.6 376.0,171.9 357.9,166.5" fill="#dadada" stroke="#000" stroke-width="1.01" stroke-linejoin="round" />
<polygon points="376.0,148.9 386.6,151.9 386.6,175.7 376.0,172.5" fill="#cecece" stroke="#000" stroke-width="1.01" stroke-linejoin="round" />
<polygon points="386.6,151.6 406.0,157.0 406.0,180.9 386.6,175.1" fill="#dadada" stroke="#000" stroke-width="1.01" stroke-linejoin="round" />
<polygon points="406.0,160.0 418.4,163.5 418.4,184.7 406.0,180.9" fill="#b4b4b4" stroke="#000" stroke-width="0.87" stroke-linejoin="round" />
<line x1="410.5" y1="158.0" x2="410.5" y2="172.0" stroke="#666" stroke-width="2.00" />
<line x1="414.5" y1="162.0" x2="414.5" y2="174.0" stroke="#777" stroke-width="2.00" />
<polygon points="407.3,173.3 417.5,176.0 417.5,179.2 407.3,176.5" fill="#e4e4e4" stroke="#000" stroke-width="0.87" stroke-linejoin="round" />
<polygon points="418.4,160.5 444.3,167.8 444.3,192.4 418.4,184.7" fill="#dadada" stroke="#000" stroke-width="1.01" stroke-linejoin="round" />
<polygon points="444.3,168.1 455.3,171.2 455.3,196.3 444.3,193.0" fill="#cecece" stroke="#000" stroke-width="1.01" stroke-linejoin="round" />
<polygon points="455.3,170.9 466.2,174.0 466.2,199.0 455.3,195.7" fill="#dadada" stroke="#000" stroke-width="1.01" stroke-linejoin="round" />
<polygon points="455.3,170.9 463.5,159.6 478.5,163.0 466.2,174.0" fill="#c6c6c6" stroke="#000" stroke-width="1.01" stroke-linejoin="round" />
<polygon points="458.6,170.3 464.8,162.0 475.3,164.4 466.0,172.3" fill="#b2b2b2" stroke="#000" stroke-width="0.72" stroke-linejoin="round" />
<polygon points="466.2,174.0 478.5,163.0 478.5,187.0 466.2,199.0" fill="#dadada" stroke="#000" stroke-width="1.01" stroke-linejoin="round" />
<polygon points="470.3,176.5 475.3,172.0 475.3,187.5 470.3,192.0" fill="#cecece" stroke="#000" stroke-width="0.72" stroke-linejoin="round" />
<polygon points="472.0,180.0 474.0,178.3 474.0,186.5 472.0,188.2" fill="#eee" stroke="#000" stroke-width="0.58" stroke-linejoin="round" />
<polyline points="357.9,143.5 370.5,132.6 383.5,135.9" fill="none" stroke="#000" stroke-width="1.01" stroke-linejoin="round" stroke-linecap="round" />
<path d="M383.5,135.9 Q386.8,137.5 386.9,142 L386.6,151.2" fill="none" stroke="#000" stroke-width="1.01" stroke-linejoin="round" stroke-linecap="round" />
<path d="M379.3,167.5 L379.3,161.5 Q381.5,158.5 383.7,161.5 L383.7,168.7" fill="#ececec" stroke="#000" stroke-width="0.87" stroke-linejoin="round" stroke-linecap="round" />
<path d="M448,188 L448,182 Q450.2,179 452.4,182 L452.4,189.2" fill="#ececec" stroke="#000" stroke-width="0.87" stroke-linejoin="round" stroke-linecap="round" />
<polyline points="368.7,147.2 371.0,153.5 373.7,148.5" fill="none" stroke="#000" stroke-width="1.01" stroke-linejoin="round" stroke-linecap="round" />
<polygon points="358.6,162.5 366.5,164.6 366.5,169.0 358.6,166.9" fill="#777" stroke="#000" stroke-width="0.58" stroke-linejoin="round" stroke-dasharray="1 0.8"/>
<polygon points="405.5,180.8 409.0,181.8 409.0,183.6 405.5,182.6" fill="#dadada" stroke="#000" stroke-width="0.72" stroke-linejoin="round" />
<polygon points="414.0,183.3 418.0,184.5 418.0,186.3 414.0,185.1" fill="#dadada" stroke="#000" stroke-width="0.72" stroke-linejoin="round" />
<polygon points="611.9,234.4 666.3,251.3 666.3,259.5 611.9,242.6" fill="#3f4564" stroke="#000" stroke-width="0.87" stroke-linejoin="round" />
<polygon points="666.3,251.3 688.8,231.6 688.8,239.8 666.3,259.5" fill="#2c2c34" stroke="#000" stroke-width="0.87" stroke-linejoin="round" />
<polygon points="611.9,234.4 633.4,215.6 688.8,231.6 666.3,251.3" fill="#484848" stroke="#000" stroke-width="0.87" stroke-linejoin="round" />
<polygon points="480.6,243.6 519.7,208.7 519.7,243.3 480.6,278.2" fill="#bcbcbc" stroke="#000" stroke-width="1.01" stroke-linejoin="round" />
<polygon points="435.6,231.1 474.7,196.2 519.7,208.7 480.6,243.6" fill="#c3c3c3" stroke="#000" stroke-width="1.01" stroke-linejoin="round" />
<polygon points="435.6,231.1 480.6,243.6 480.6,278.2 435.6,265.7" fill="#c8c8c8" stroke="#000" stroke-width="1.01" stroke-linejoin="round" />
<path d="M441.3,232.6 Q447.8,224.1 456.3,218.1 L460.3,219.3 Q451.8,226.1 446.8,234.1 Z" fill="#cfcfcf" stroke="#000" stroke-width="0.87" stroke-linejoin="round" stroke-linecap="round" />
<path d="M447.3,234.4 Q452.3,227.6 460.8,222.1 L461.3,224.6 Q454.8,229.6 451.3,235.4 Z" fill="#ececec" stroke="#000" stroke-width="0.72" stroke-linejoin="round" stroke-linecap="round" />
<path d="M461.1,238.1 Q467.6,229.6 476.1,223.6 L480.1,224.8 Q471.6,231.6 466.6,239.6 Z" fill="#cfcfcf" stroke="#000" stroke-width="0.87" stroke-linejoin="round" stroke-linecap="round" />
<path d="M467.1,239.9 Q472.1,233.1 480.6,227.6 L481.1,230.1 Q474.6,235.1 471.1,240.9 Z" fill="#ececec" stroke="#000" stroke-width="0.72" stroke-linejoin="round" stroke-linecap="round" />
<polygon points="441.0,243.0 446.9,244.6 446.9,241.1 451.8,242.5 451.8,239.1 459.0,241.1 459.0,244.5 462.6,245.5 462.6,249.0 475.7,252.6 475.7,272.0 441.0,262.4" fill="#c0c0c0" stroke="#000" stroke-width="1.01" stroke-linejoin="round" />
<polygon points="441.0,262.4 449.1,253.9 475.7,261.3 475.7,272.0" fill="#bbbbbb" stroke="#000" stroke-width="0.87" stroke-linejoin="round" />
<polyline points="449.1,253.9 449.1,244.5" fill="none" stroke="#000" stroke-width="0.72" stroke-linejoin="round" stroke-linecap="round" />
<polygon points="446.9,244.6 446.9,241.1 451.8,242.5 449.1,245.2" fill="#efefef" stroke="#000" stroke-width="0.72" stroke-linejoin="round" />
<polyline points="454.5,246.7 454.5,241.2 459.0,242.4 459.0,245.2 461.7,246.0 461.7,250.8" fill="none" stroke="#000" stroke-width="0.72" stroke-linejoin="round" stroke-linecap="round" />
<polygon points="438.8,234.7 445.7,236.7 445.7,240.3 438.8,238.4" fill="#f7a70d" stroke="#1a1000" stroke-width="0.87" stroke-linejoin="round" />
<polygon points="469.8,243.4 476.8,245.3 476.8,248.9 469.8,247.0" fill="#f7a70d" stroke="#1a1000" stroke-width="0.87" stroke-linejoin="round" />
<polygon points="487.0,272.5 509.0,278.8 509.0,283.2 487.0,277.0" fill="#12a43a" stroke="#000" stroke-width="0.72" stroke-linejoin="round" />
<polygon points="487.0,268.0 509.0,274.0 509.0,278.8 487.0,272.5" fill="#2dc458" stroke="#000" stroke-width="0.58" stroke-linejoin="round" />
<ellipse cx="502.8" cy="264.8" rx="6.3" ry="7.0" fill="#e4e4e4" stroke="#000" stroke-width="0.87" />
<ellipse cx="503.6" cy="265.6" rx="4.6" ry="5.3" fill="#cfcfcf" stroke="#000" stroke-width="0.72" />
<path d="M497,258 L497,252.5 L504,250.5 L507,252" fill="#eee" stroke="#000" stroke-width="0.87" stroke-linejoin="round" stroke-linecap="round" />
<line x1="492.0" y1="277.5" x2="492.0" y2="281.0" stroke="#000" stroke-width="0.87" />
<polygon points="600.0,280.0 638.8,244.6 638.8,278.8 600.0,314.2" fill="#bcbcbc" stroke="#000" stroke-width="1.01" stroke-linejoin="round" />
<polygon points="554.6,266.2 593.4,230.8 638.8,244.6 600.0,280.0" fill="#c3c3c3" stroke="#000" stroke-width="1.01" stroke-linejoin="round" />
<polygon points="554.6,266.2 600.0,280.0 600.0,314.2 554.6,300.4" fill="#c8c8c8" stroke="#000" stroke-width="1.01" stroke-linejoin="round" />
<path d="M560.4,267.9 Q566.9,259.4 575.4,253.4 L579.4,254.6 Q570.9,261.4 565.9,269.4 Z" fill="#cfcfcf" stroke="#000" stroke-width="0.87" stroke-linejoin="round" stroke-linecap="round" />
<path d="M566.4,269.7 Q571.4,262.9 579.9,257.4 L580.4,259.9 Q573.9,264.9 570.4,270.7 Z" fill="#ececec" stroke="#000" stroke-width="0.72" stroke-linejoin="round" stroke-linecap="round" />
<path d="M580.3,274.0 Q586.8,265.5 595.3,259.5 L599.3,260.7 Q590.8,267.5 585.8,275.5 Z" fill="#cfcfcf" stroke="#000" stroke-width="0.87" stroke-linejoin="round" stroke-linecap="round" />
<path d="M586.3,275.8 Q591.3,269.0 599.8,263.5 L600.3,266.0 Q593.8,271.0 590.3,276.8 Z" fill="#ececec" stroke="#000" stroke-width="0.72" stroke-linejoin="round" stroke-linecap="round" />
<polygon points="560.0,278.1 566.0,279.9 566.0,276.5 570.9,278.0 570.9,274.6 578.2,276.8 578.2,280.2 581.8,281.3 581.8,284.7 595.0,288.7 595.0,307.9 560.0,297.3" fill="#c0c0c0" stroke="#000" stroke-width="1.01" stroke-linejoin="round" />
<polygon points="560.0,297.3 568.2,289.1 595.0,297.3 595.0,307.9" fill="#bbbbbb" stroke="#000" stroke-width="0.87" stroke-linejoin="round" />
<polyline points="568.2,289.1 568.2,279.9" fill="none" stroke="#000" stroke-width="0.72" stroke-linejoin="round" stroke-linecap="round" />
<polygon points="566.0,279.9 566.0,276.5 570.9,278.0 568.2,280.6" fill="#efefef" stroke="#000" stroke-width="0.72" stroke-linejoin="round" />
<polyline points="573.7,282.3 573.7,276.8 578.2,278.2 578.2,280.9 580.9,281.7 580.9,286.5" fill="none" stroke="#000" stroke-width="0.72" stroke-linejoin="round" stroke-linecap="round" />
<polygon points="557.8,269.9 564.8,272.0 564.8,275.6 557.8,273.5" fill="#f7a70d" stroke="#1a1000" stroke-width="0.87" stroke-linejoin="round" />
<polygon points="589.1,279.4 596.1,281.6 596.1,285.2 589.1,283.0" fill="#f7a70d" stroke="#1a1000" stroke-width="0.87" stroke-linejoin="round" />
<polygon points="510.0,252.5 549.5,217.5 594.1,231.2 554.6,266.2" fill="#c3c3c3" stroke="#000" stroke-width="1.01" stroke-linejoin="round" />
<polygon points="510.0,252.5 554.6,266.2 554.6,300.7 510.0,287.0" fill="#c8c8c8" stroke="#000" stroke-width="1.01" stroke-linejoin="round" />
<path d="M515.6,254.2 Q522.1,245.7 530.6,239.7 L534.6,240.9 Q526.1,247.7 521.1,255.7 Z" fill="#cfcfcf" stroke="#000" stroke-width="0.87" stroke-linejoin="round" stroke-linecap="round" />
<path d="M521.6,256.0 Q526.6,249.2 535.1,243.7 L535.6,246.2 Q529.1,251.2 525.6,257.0 Z" fill="#ececec" stroke="#000" stroke-width="0.72" stroke-linejoin="round" stroke-linecap="round" />
<path d="M535.3,260.2 Q541.8,251.7 550.3,245.7 L554.3,246.9 Q545.8,253.7 540.8,261.7 Z" fill="#cfcfcf" stroke="#000" stroke-width="0.87" stroke-linejoin="round" stroke-linecap="round" />
<path d="M541.3,262.0 Q546.3,255.2 554.8,249.7 L555.3,252.2 Q548.8,257.2 545.3,263.0 Z" fill="#ececec" stroke="#000" stroke-width="0.72" stroke-linejoin="round" stroke-linecap="round" />
<polygon points="515.4,264.5 521.1,266.3 521.1,262.8 526.1,264.3 526.1,260.9 533.2,263.1 533.2,266.5 536.8,267.6 536.8,271.1 549.7,275.0 549.7,294.4 515.4,283.8" fill="#c0c0c0" stroke="#000" stroke-width="1.01" stroke-linejoin="round" />
<polygon points="515.4,283.8 523.4,275.6 549.7,283.7 549.7,294.4" fill="#bbbbbb" stroke="#000" stroke-width="0.87" stroke-linejoin="round" />
<polyline points="523.4,275.6 523.4,266.3" fill="none" stroke="#000" stroke-width="0.72" stroke-linejoin="round" stroke-linecap="round" />
<polygon points="521.1,266.3 521.1,262.8 526.1,264.3 523.4,267.0" fill="#efefef" stroke="#000" stroke-width="0.72" stroke-linejoin="round" />
<polygon points="527.8,264.2 533.2,265.8 533.2,268.6 535.9,269.4 535.9,274.9 527.8,272.5" fill="#2a2a2a" stroke="none" stroke-width="1.16" stroke-linejoin="round" />
<polygon points="513.1,256.2 520.0,258.3 520.0,262.0 513.1,259.8" fill="#f7a70d" stroke="#1a1000" stroke-width="0.87" stroke-linejoin="round" />
<polygon points="543.9,265.7 550.8,267.8 550.8,271.4 543.9,269.3" fill="#f7a70d" stroke="#1a1000" stroke-width="0.87" stroke-linejoin="round" />
<polygon points="550.4,183.3 561.7,174.2 561.7,177.5 550.4,187.1" fill="#ff1c3a" stroke="#1a0002" stroke-width="1.01" stroke-linejoin="round" />
<polygon points="537.1,179.6 540.0,180.4 540.0,184.2 537.1,183.1" fill="#f8202e" stroke="#1a0002" stroke-width="1.01" stroke-linejoin="round" />
<polygon points="547.3,182.7 550.4,183.5 550.4,187.1 547.5,186.7" fill="#ff1c3a" stroke="#1a0002" stroke-width="1.01" stroke-linejoin="round" />
<polygon points="539.4,174.2 549.4,176.7 549.4,186.7 540.0,184.2" fill="#f0202a" stroke="#1a0002" stroke-width="1.01" stroke-linejoin="round" />
<polygon points="549.4,176.7 558.8,169.6 558.8,174.5 549.4,183.6" fill="#f5242c" stroke="#1a0002" stroke-width="1.01" stroke-linejoin="round" />
<polygon points="539.4,174.2 548.3,166.5 558.8,169.6 549.4,176.7" fill="#ed1c24" stroke="#1a0002" stroke-width="1.01" stroke-linejoin="round" />
<polyline points="551.0,183.2 560.5,175.2" fill="none" stroke="#7a0010" stroke-width="1.45" stroke-linejoin="round" stroke-linecap="round" stroke-dasharray="1 0.7"/>
<polygon points="599.4,122.7 609.5,113.3 615.0,114.0 620.5,118.0 622.8,113.3 636.9,110.6 639.7,112.5 639.7,120.3 651.0,123.4 663.4,128.9 671.3,130.5 672.0,121.9 675.2,121.9 676.7,131.3 686.1,135.2 686.1,146.1 676.7,156.3 665.0,153.1 662.7,154.7 650.2,157.0 643.9,153.9 643.1,151.6 617.3,146.9 608.8,143.8 608.0,136.7 599.4,133.6" fill="#f4f4f8" stroke="#000" stroke-width="1.16" stroke-linejoin="round" />
<polygon points="676.7,145.3 686.1,136.7 686.1,146.1 676.7,156.3" fill="#dcdcf8" stroke="#000" stroke-width="1.01" stroke-linejoin="round" />
<ellipse cx="642.5" cy="135.3" rx="24.2" ry="10.2" fill="#ffffff" stroke="#000" stroke-width="1.01" transform="rotate(11 642.5 135.3)"/>
<path d="M616.5,133 Q616,140 622,144.5 Q632,150 647,150.2" fill="none" stroke="#000" stroke-width="0.87" stroke-linejoin="round" stroke-linecap="round" />
<path d="M613.5,131 Q612.5,141 618,146.8" fill="none" stroke="#000" stroke-width="0.87" stroke-linejoin="round" stroke-linecap="round" />
<path d="M626,134.8 L630,131 L636.5,131.3 L629.5,138.3 Z" fill="#555" stroke="#000" stroke-width="0.72" stroke-linejoin="round" stroke-linecap="round" />
<path d="M629.5,134.3 L632,132.3 L631.5,135.5 Z" fill="#fff" stroke="none" stroke-width="1.16" stroke-linejoin="round" stroke-linecap="round" />
<path d="M599.4,122.7 L608,125.8 L608,136.7 M608,125.8 L612.5,121.5 L612.5,128 L615.5,125 L618,118.5" fill="none" stroke="#000" stroke-width="0.87" stroke-linejoin="round" stroke-linecap="round" />
<polygon points="610.3,117.2 613.5,114.8 615.0,118.5 612.2,121.5" fill="#999" stroke="#000" stroke-width="0.72" stroke-linejoin="round" />
<path d="M611.5,128.5 L613.5,138.5 L617.3,146.9" fill="none" stroke="#000" stroke-width="0.87" stroke-linejoin="round" stroke-linecap="round" />
<path d="M622.8,113.3 L623.6,123.5 L639.7,120.3 M623.6,123.5 L620,126.5" fill="none" stroke="#000" stroke-width="0.87" stroke-linejoin="round" stroke-linecap="round" />
<polygon points="626.7,114.2 637.0,112.2 637.8,113.8 627.5,115.8" fill="#ddd" stroke="#000" stroke-width="0.72" stroke-linejoin="round" />
<polygon points="647.0,143.8 663.4,140.6 663.4,153.1 650.2,157.0 647.0,153.9" fill="#f8f8fc" stroke="#000" stroke-width="1.01" stroke-linejoin="round" />
<polygon points="647.0,143.8 657.2,138.3 664.2,139.8 663.4,140.6" fill="#e8e8ee" stroke="#000" stroke-width="0.87" stroke-linejoin="round" />
<line x1="657.5" y1="142.0" x2="657.5" y2="155.0" stroke="#000" stroke-width="0.72" />
<polygon points="665.0,142.2 676.7,145.3 676.7,156.3 665.0,153.1" fill="#f8f8fc" stroke="#000" stroke-width="1.01" stroke-linejoin="round" />
<polygon points="665.0,142.2 674.4,134.4 686.1,136.7 676.7,145.3" fill="#ececf2" stroke="#000" stroke-width="1.01" stroke-linejoin="round" />
<polygon points="670.0,139.6 675.0,135.8 680.5,137.0 675.8,141.0" fill="#bbb" stroke="#000" stroke-width="0.72" stroke-linejoin="round" />
<polygon points="671.5,139.5 675.5,136.5 678.5,137.2 674.7,140.3" fill="#f4f4f4" stroke="#000" stroke-width="0.58" stroke-linejoin="round" />
<path d="M671.3,130.5 L672,121.9 Q673.6,117.5 675.2,121.9 L676.7,131.3 L674.4,134.4 Z" fill="#f4f4f8" stroke="#000" stroke-width="1.01" stroke-linejoin="round" stroke-linecap="round" />
<path d="M673.4,121 L674,132.5" fill="none" stroke="#000" stroke-width="0.72" stroke-linejoin="round" stroke-linecap="round" />
<polygon points="683.8,161.7 709.5,141.4 743.9,151.6 744.7,154.7 720.5,176.6 683.8,165.6" fill="#dedede" stroke="#000" stroke-width="1.16" stroke-linejoin="round" />
<polygon points="683.8,161.7 709.5,141.4 743.9,151.6 719.7,172.7" fill="#eeeeee" stroke="#000" stroke-width="1.01" stroke-linejoin="round" />
<polyline points="685.5,164.0 720.0,174.8 744.3,153.3" fill="none" stroke="#222" stroke-width="1.50" stroke-linejoin="round" stroke-linecap="round" />
<line x1="690.5" y1="165.3" x2="690.8" y2="168.3" stroke="#111" stroke-width="1.40" />
<line x1="693.9" y1="166.4" x2="694.2" y2="169.4" stroke="#111" stroke-width="1.40" />
<line x1="697.3" y1="167.4" x2="697.6" y2="170.4" stroke="#111" stroke-width="1.40" />
<line x1="700.7" y1="168.5" x2="701.0" y2="171.5" stroke="#111" stroke-width="1.40" />
<line x1="704.1" y1="169.6" x2="704.4" y2="172.6" stroke="#111" stroke-width="1.40" />
<line x1="707.5" y1="170.7" x2="707.8" y2="173.7" stroke="#111" stroke-width="1.40" />
<line x1="710.9" y1="171.7" x2="711.2" y2="174.7" stroke="#111" stroke-width="1.40" />
<line x1="714.3" y1="172.8" x2="714.6" y2="175.8" stroke="#111" stroke-width="1.40" />
<line x1="717.7" y1="173.9" x2="718.0" y2="176.9" stroke="#111" stroke-width="1.40" />
<polygon points="684.5,162.3 687.5,163.2 687.5,166.0 684.5,165.1" fill="#fff" stroke="#000" stroke-width="0.72" stroke-linejoin="round" />
<polyline points="690.5,160.3 709.5,145.3" fill="none" stroke="#333" stroke-width="1.50" stroke-linejoin="round" stroke-linecap="round" stroke-dasharray="5 1"/>
<polyline points="693.0,161.0 711.0,147.0" fill="none" stroke="#333" stroke-width="0.87" stroke-linejoin="round" stroke-linecap="round" />
<polyline points="700.0,153.5 712.0,144.5" fill="none" stroke="#333" stroke-width="2.00" stroke-linejoin="round" stroke-linecap="round" stroke-dasharray="2 1"/>
<ellipse cx="712.5" cy="153.5" rx="3.0" ry="1.1" fill="#ddd" stroke="#000" stroke-width="0.87" transform="rotate(-22 712.5 153.5)"/>
<ellipse cx="724.5" cy="158.8" rx="3.0" ry="1.1" fill="#ddd" stroke="#000" stroke-width="0.87" transform="rotate(-22 724.5 158.8)"/>
<polyline points="729.5,160.0 735.5,153.5" fill="none" stroke="#000" stroke-width="1.01" stroke-linejoin="round" stroke-linecap="round" />
<polyline points="732.0,161.0 738.0,154.5" fill="none" stroke="#000" stroke-width="1.01" stroke-linejoin="round" stroke-linecap="round" />
<polygon points="721.5,169.5 727.5,164.0 727.5,168.5 721.5,174.0" fill="#333" stroke="#000" stroke-width="0.58" stroke-linejoin="round" />
<polygon points="723.0,169.8 726.0,167.2 726.0,169.0 723.0,171.6" fill="#ddd" stroke="none" stroke-width="1.16" stroke-linejoin="round" />
<polyline points="729.5,165.5 741.5,154.5" fill="none" stroke="#444" stroke-width="2.20" stroke-linejoin="round" stroke-linecap="round" stroke-dasharray="2.5 1.5"/>
<polyline points="726.0,171.0 742.5,156.0" fill="none" stroke="#111" stroke-width="1.01" stroke-linejoin="round" stroke-linecap="round" />
<line x1="243.3" y1="56.0" x2="243.3" y2="82.0" stroke="#000" stroke-width="1.16" />
<line x1="243.3" y1="88.0" x2="243.3" y2="141.0" stroke="#000" stroke-width="1.16" stroke-dasharray="11 4"/>
<polygon points="239.4,46.0 239.4,55.0 247.2,55.0 247.2,46.0" fill="#f4f8ff" stroke="#000" stroke-width="0.87" stroke-linejoin="round" />
<ellipse cx="243.3" cy="55.0" rx="3.9" ry="1.6" fill="#f4f8ff" stroke="#000" stroke-width="0.87" />
<polygon points="239.7,46.0 239.7,55.0 246.9,55.0 246.9,46.0" fill="#f4f8ff" stroke="none" stroke-width="1.16" stroke-linejoin="round" />
<path d="M235.0,42.0 L235.0,45.0 A8.3,4.4 0 0 0 251.6,45.0 L251.6,42.0 Z" fill="#f0f0f0" stroke="#000" stroke-width="0.87" stroke-linejoin="round" stroke-linecap="round" />
<ellipse cx="243.3" cy="42.0" rx="8.3" ry="4.4" fill="#fafafa" stroke="#000" stroke-width="0.87" />
<ellipse cx="243.3" cy="41.7" rx="4.0" ry="2.2" fill="#d0d0d0" stroke="#000" stroke-width="0.72" />
<ellipse cx="243.3" cy="41.7" rx="1.8" ry="1.0" fill="#777" stroke="#000" stroke-width="0.43" />
<line x1="626.2" y1="189.0" x2="626.2" y2="216.0" stroke="#000" stroke-width="1.16" />
<line x1="626.2" y1="219.0" x2="626.2" y2="270.0" stroke="#000" stroke-width="1.16" stroke-dasharray="11 4"/>
<line x1="626.2" y1="270.0" x2="626.2" y2="300.0" stroke="#444" stroke-width="1.16" />
<ellipse cx="626.4" cy="302.0" rx="4.4" ry="2.2" fill="#12c040" stroke="#084a18" stroke-width="1.16" />
<line x1="626.2" y1="295.0" x2="626.2" y2="302.0" stroke="#0a5a20" stroke-width="1.16" />
<line x1="626.2" y1="316.0" x2="626.2" y2="343.5" stroke="#444" stroke-width="1.16" />
<line x1="626.2" y1="351.0" x2="626.2" y2="357.5" stroke="#444" stroke-width="1.16" />
<line x1="626.2" y1="383.0" x2="626.2" y2="406.0" stroke="#3a1010" stroke-width="1.16" />
<polygon points="622.3,177.4 622.3,186.4 630.1,186.4 630.1,177.4" fill="#f4f8ff" stroke="#000" stroke-width="0.87" stroke-linejoin="round" />
<ellipse cx="626.2" cy="186.4" rx="3.9" ry="1.6" fill="#f4f8ff" stroke="#000" stroke-width="0.87" />
<polygon points="622.6,177.4 622.6,186.4 629.8,186.4 629.8,177.4" fill="#f4f8ff" stroke="none" stroke-width="1.16" stroke-linejoin="round" />
<path d="M617.9,173.4 L617.9,176.4 A8.3,4.4 0 0 0 634.5,176.4 L634.5,173.4 Z" fill="#f0f0f0" stroke="#000" stroke-width="0.87" stroke-linejoin="round" stroke-linecap="round" />
<ellipse cx="626.2" cy="173.4" rx="8.3" ry="4.4" fill="#fafafa" stroke="#000" stroke-width="0.87" />
<ellipse cx="626.2" cy="173.1" rx="4.0" ry="2.2" fill="#d0d0d0" stroke="#000" stroke-width="0.72" />
<ellipse cx="626.2" cy="173.1" rx="1.8" ry="1.0" fill="#777" stroke="#000" stroke-width="0.43" />
<line x1="767.5" y1="104.0" x2="767.5" y2="118.0" stroke="#000" stroke-width="1.16" />
<line x1="767.5" y1="120.0" x2="767.5" y2="172.0" stroke="#000" stroke-width="1.16" stroke-dasharray="11 4"/>
<line x1="767.5" y1="198.0" x2="767.5" y2="527.5" stroke="#222" stroke-width="1.16" stroke-dasharray="57 6.5 9 6.5" stroke-dashoffset="24.3"/>
<polygon points="763.6,84.0 763.6,103.0 771.4,103.0 771.4,84.0" fill="#f4f8ff" stroke="#000" stroke-width="0.87" stroke-linejoin="round" />
<ellipse cx="767.5" cy="103.0" rx="3.9" ry="1.6" fill="#f4f8ff" stroke="#000" stroke-width="0.87" />
<polygon points="763.9,84.0 763.9,103.0 771.1,103.0 771.1,84.0" fill="#f4f8ff" stroke="none" stroke-width="1.16" stroke-linejoin="round" />
<path d="M759.2,80.0 L759.2,83.0 A8.3,4.4 0 0 0 775.8,83.0 L775.8,80.0 Z" fill="#f0f0f0" stroke="#000" stroke-width="0.87" stroke-linejoin="round" stroke-linecap="round" />
<ellipse cx="767.5" cy="80.0" rx="8.3" ry="4.4" fill="#fafafa" stroke="#000" stroke-width="0.87" />
<ellipse cx="767.5" cy="79.7" rx="4.0" ry="2.2" fill="#d0d0d0" stroke="#000" stroke-width="0.72" />
<ellipse cx="767.5" cy="79.7" rx="1.8" ry="1.0" fill="#777" stroke="#000" stroke-width="0.43" />
<line x1="343.0" y1="234.0" x2="343.0" y2="341.0" stroke="#222" stroke-width="1.16" stroke-dasharray="37 5 14 5"/>
<line x1="530.5" y1="297.0" x2="530.5" y2="325.5" stroke="#222" stroke-width="1.16" />
<line x1="530.5" y1="331.0" x2="530.5" y2="354.0" stroke="#2a1010" stroke-width="1.16" />
<line x1="551.0" y1="376.6" x2="700.0" y2="343.6" stroke="#fff" stroke-width="5.40" />
<line x1="551.0" y1="376.6" x2="906.5" y2="298.0" stroke="#111" stroke-width="2.30" />
<ellipse cx="551.0" cy="376.6" rx="3.7" ry="3.7" fill="#111" stroke="#fff" stroke-width="1.60" />
<text transform="translate(918.3,306) scale(0.965,1)" font-size="28.8" font-weight="bold" fill="#000">Pos. 01</text>
</svg>
</body></html>
